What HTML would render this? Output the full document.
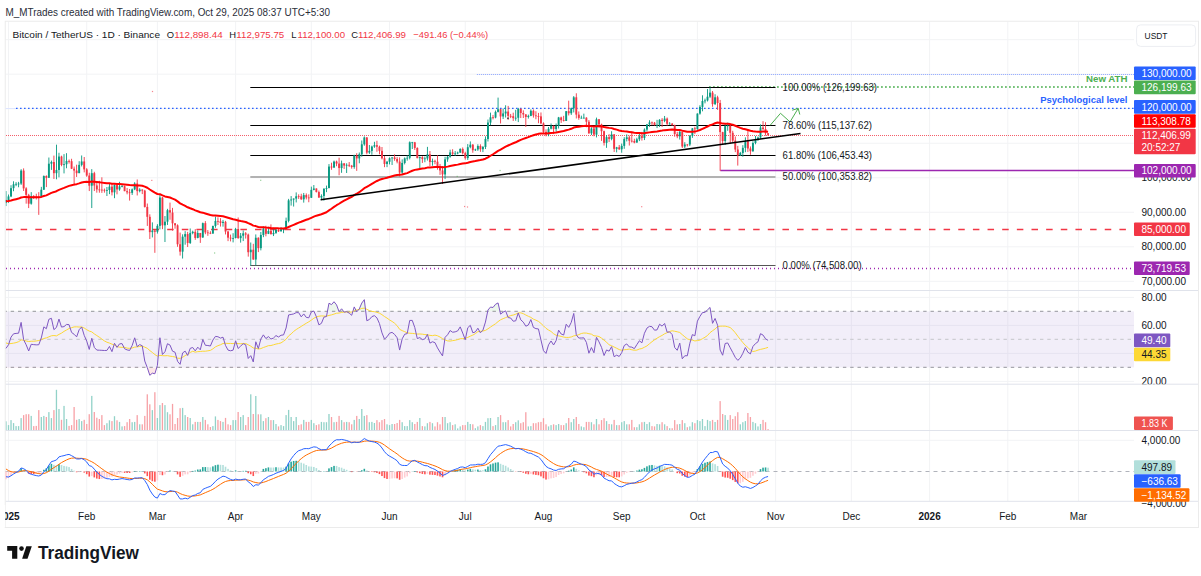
<!DOCTYPE html>
<html><head><meta charset="utf-8"><style>
html,body{margin:0;padding:0;background:#fff;width:1201px;height:576px;overflow:hidden}
svg{display:block;font-family:"Liberation Sans", sans-serif}
</style></head><body>
<svg width="1201" height="576" viewBox="0 0 1201 576">
<defs><clipPath id="pc"><rect x="5.75" y="21.5" width="1128.25" height="480"/></clipPath></defs>
<text x="5.6" y="15.9" font-size="10.2" fill="#2a2e39" text-anchor="start" font-weight="normal" textLength="324.4" lengthAdjust="spacingAndGlyphs">M_MTrades created with TradingView.com, Oct 29, 2025 08:37 UTC+5:30</text>
<line x1="8.5" y1="21.5" x2="8.5" y2="501.3" stroke="#f2f3f5" stroke-width="1"/>
<line x1="86.73" y1="21.5" x2="86.73" y2="501.3" stroke="#f2f3f5" stroke-width="1"/>
<line x1="157.39" y1="21.5" x2="157.39" y2="501.3" stroke="#f2f3f5" stroke-width="1"/>
<line x1="235.61" y1="21.5" x2="235.61" y2="501.3" stroke="#f2f3f5" stroke-width="1"/>
<line x1="311.32" y1="21.5" x2="311.32" y2="501.3" stroke="#f2f3f5" stroke-width="1"/>
<line x1="389.55" y1="21.5" x2="389.55" y2="501.3" stroke="#f2f3f5" stroke-width="1"/>
<line x1="465.25" y1="21.5" x2="465.25" y2="501.3" stroke="#f2f3f5" stroke-width="1"/>
<line x1="543.48" y1="21.5" x2="543.48" y2="501.3" stroke="#f2f3f5" stroke-width="1"/>
<line x1="621.71" y1="21.5" x2="621.71" y2="501.3" stroke="#f2f3f5" stroke-width="1"/>
<line x1="697.42" y1="21.5" x2="697.42" y2="501.3" stroke="#f2f3f5" stroke-width="1"/>
<line x1="775.64" y1="21.5" x2="775.64" y2="501.3" stroke="#f2f3f5" stroke-width="1"/>
<line x1="851.35" y1="21.5" x2="851.35" y2="501.3" stroke="#f2f3f5" stroke-width="1"/>
<line x1="929.58" y1="21.5" x2="929.58" y2="501.3" stroke="#f2f3f5" stroke-width="1"/>
<line x1="1007.81" y1="21.5" x2="1007.81" y2="501.3" stroke="#f2f3f5" stroke-width="1"/>
<line x1="1078.46" y1="21.5" x2="1078.46" y2="501.3" stroke="#f2f3f5" stroke-width="1"/>
<line x1="5.5" y1="39.68" x2="1134" y2="39.68" stroke="#f2f3f5" stroke-width="1"/>
<line x1="5.5" y1="74.2" x2="1134" y2="74.2" stroke="#f2f3f5" stroke-width="1"/>
<line x1="5.5" y1="108.72" x2="1134" y2="108.72" stroke="#f2f3f5" stroke-width="1"/>
<line x1="5.5" y1="143.24" x2="1134" y2="143.24" stroke="#f2f3f5" stroke-width="1"/>
<line x1="5.5" y1="177.76" x2="1134" y2="177.76" stroke="#f2f3f5" stroke-width="1"/>
<line x1="5.5" y1="212.28" x2="1134" y2="212.28" stroke="#f2f3f5" stroke-width="1"/>
<line x1="5.5" y1="246.8" x2="1134" y2="246.8" stroke="#f2f3f5" stroke-width="1"/>
<line x1="5.5" y1="281.32" x2="1134" y2="281.32" stroke="#f2f3f5" stroke-width="1"/>
<line x1="5.5" y1="297.4" x2="1134" y2="297.4" stroke="#f2f3f5" stroke-width="1"/>
<line x1="5.5" y1="325.4" x2="1134" y2="325.4" stroke="#f2f3f5" stroke-width="1"/>
<line x1="5.5" y1="353.4" x2="1134" y2="353.4" stroke="#f2f3f5" stroke-width="1"/>
<line x1="5.5" y1="381.4" x2="1134" y2="381.4" stroke="#f2f3f5" stroke-width="1"/>
<line x1="5.5" y1="440.3" x2="1134" y2="440.3" stroke="#f2f3f5" stroke-width="1"/>
<rect x="5.5" y="311.4" width="1128.5" height="56" fill="rgba(126,87,194,0.1)"/>
<line x1="5.5" y1="311.4" x2="1134" y2="311.4" stroke="#a9a9b0" stroke-width="1.2" stroke-dasharray="3.4 3.9" stroke-dashoffset="2.1"/>
<line x1="5.5" y1="367.4" x2="1134" y2="367.4" stroke="#a9a9b0" stroke-width="1.2" stroke-dasharray="3.4 3.9" stroke-dashoffset="2.1"/>
<line x1="5.5" y1="339.4" x2="1134" y2="339.4" stroke="#cdcdd3" stroke-width="1.2" stroke-dasharray="3.4 3.9" stroke-dashoffset="2.1"/>
<line x1="5.5" y1="290.5" x2="1198.5" y2="290.5" stroke="#e0e3eb" stroke-width="1"/>
<line x1="5.5" y1="384.2" x2="1198.5" y2="384.2" stroke="#e0e3eb" stroke-width="1"/>
<line x1="5.5" y1="430.5" x2="1198.5" y2="430.5" stroke="#e0e3eb" stroke-width="1"/>
<line x1="5.5" y1="501.3" x2="1198.5" y2="501.3" stroke="#e0e3eb" stroke-width="1"/>
<rect x="5.25" y="21.25" width="1193.25" height="506.25" fill="none" stroke="#ebebeb" stroke-width="1"/>
<line x1="5.5" y1="108.5" x2="16" y2="108.5" stroke="#dfe6ff" stroke-width="1"/>
<line x1="16" y1="108.4" x2="1134" y2="108.4" stroke="#2962FF" stroke-width="1.3" stroke-dasharray="1.6 2.4"/>
<line x1="476.9" y1="74.5" x2="1134" y2="74.5" stroke="#8fa8ff" stroke-width="1" stroke-dasharray="1 1"/>
<line x1="6" y1="135.5" x2="1134" y2="135.5" stroke="#F23645" stroke-width="1" stroke-dasharray="1 1" opacity="0.8"/>
<line x1="6" y1="229.4" x2="1134" y2="229.4" stroke="#F23645" stroke-width="1.5" stroke-dasharray="6.5 8.15"/>
<line x1="6" y1="268.5" x2="1134" y2="268.5" stroke="#9C27B0" stroke-width="1.3" stroke-dasharray="1 3"/>
<line x1="709" y1="87" x2="1134" y2="87" stroke="#4CAF50" stroke-width="1.6" stroke-dasharray="1.8 2.2"/>
<line x1="720.3" y1="170.5" x2="1134" y2="170.5" stroke="#9C27B0" stroke-width="1.4"/>
<line x1="250.3" y1="87.5" x2="775.5" y2="87.5" stroke="#000" stroke-width="1"/>
<line x1="250.3" y1="125.5" x2="775.5" y2="125.5" stroke="#000" stroke-width="1"/>
<line x1="250.3" y1="155.5" x2="775.5" y2="155.5" stroke="#000" stroke-width="1"/>
<line x1="250.3" y1="265.5" x2="775.5" y2="265.5" stroke="#555" stroke-width="1"/>
<line x1="250.3" y1="177" x2="775.5" y2="177" stroke="#b2b2b2" stroke-width="1.8"/>
<g clip-path="url(#pc)"><rect x="5.53" y="191.05" width="0.9" height="15.02" fill="#089981"/><rect x="5.03" y="199.94" width="1.9" height="2.71" fill="#089981"/><rect x="8.05" y="194.50" width="0.9" height="8.32" fill="#089981"/><rect x="7.55" y="196.43" width="1.9" height="3.50" fill="#089981"/><rect x="10.57" y="185.22" width="0.9" height="11.90" fill="#089981"/><rect x="10.07" y="188.17" width="1.9" height="8.26" fill="#089981"/><rect x="13.10" y="181.29" width="0.9" height="9.93" fill="#089981"/><rect x="12.60" y="184.29" width="1.9" height="3.87" fill="#089981"/><rect x="15.62" y="182.13" width="0.9" height="4.05" fill="#089981"/><rect x="15.12" y="183.85" width="1.9" height="0.80" fill="#089981"/><rect x="18.14" y="181.86" width="0.9" height="5.40" fill="#089981"/><rect x="17.64" y="183.58" width="1.9" height="0.80" fill="#089981"/><rect x="20.67" y="169.19" width="0.9" height="15.73" fill="#089981"/><rect x="20.17" y="170.59" width="1.9" height="12.99" fill="#089981"/><rect x="23.19" y="168.36" width="0.9" height="22.59" fill="#F23645"/><rect x="22.69" y="170.59" width="1.9" height="17.80" fill="#F23645"/><rect x="25.71" y="187.22" width="0.9" height="16.43" fill="#F23645"/><rect x="25.21" y="188.39" width="1.9" height="6.49" fill="#F23645"/><rect x="28.24" y="193.82" width="0.9" height="14.25" fill="#F23645"/><rect x="27.74" y="194.87" width="1.9" height="8.83" fill="#F23645"/><rect x="30.76" y="192.13" width="0.9" height="12.53" fill="#089981"/><rect x="30.26" y="196.05" width="1.9" height="7.65" fill="#089981"/><rect x="33.28" y="195.10" width="0.9" height="3.92" fill="#F23645"/><rect x="32.78" y="196.05" width="1.9" height="0.80" fill="#F23645"/><rect x="35.81" y="193.72" width="0.9" height="5.75" fill="#F23645"/><rect x="35.31" y="196.52" width="1.9" height="0.80" fill="#F23645"/><rect x="38.33" y="192.13" width="0.9" height="22.72" fill="#F23645"/><rect x="37.83" y="196.64" width="1.9" height="0.80" fill="#F23645"/><rect x="40.86" y="186.84" width="0.9" height="10.44" fill="#089981"/><rect x="40.36" y="189.72" width="1.9" height="6.97" fill="#089981"/><rect x="43.38" y="175.41" width="0.9" height="14.43" fill="#089981"/><rect x="42.88" y="176.02" width="1.9" height="13.71" fill="#089981"/><rect x="45.90" y="175.34" width="0.9" height="11.74" fill="#F23645"/><rect x="45.40" y="176.02" width="1.9" height="1.79" fill="#F23645"/><rect x="48.43" y="157.51" width="0.9" height="20.42" fill="#089981"/><rect x="47.93" y="163.69" width="1.9" height="14.12" fill="#089981"/><rect x="50.95" y="160.54" width="0.9" height="9.35" fill="#089981"/><rect x="50.45" y="162.03" width="1.9" height="1.65" fill="#089981"/><rect x="53.47" y="155.59" width="0.9" height="23.37" fill="#F23645"/><rect x="52.97" y="162.03" width="1.9" height="11.14" fill="#F23645"/><rect x="56.00" y="144.66" width="0.9" height="34.65" fill="#089981"/><rect x="55.50" y="169.96" width="1.9" height="3.21" fill="#089981"/><rect x="58.52" y="152.77" width="0.9" height="24.58" fill="#089981"/><rect x="58.02" y="156.55" width="1.9" height="13.41" fill="#089981"/><rect x="61.04" y="155.69" width="0.9" height="10.55" fill="#F23645"/><rect x="60.54" y="156.55" width="1.9" height="8.42" fill="#F23645"/><rect x="63.57" y="154.11" width="0.9" height="19.29" fill="#089981"/><rect x="63.07" y="164.26" width="1.9" height="0.80" fill="#089981"/><rect x="66.09" y="153.18" width="0.9" height="15.09" fill="#089981"/><rect x="65.59" y="160.95" width="1.9" height="3.32" fill="#089981"/><rect x="68.61" y="159.51" width="0.9" height="4.07" fill="#F23645"/><rect x="68.11" y="160.95" width="1.9" height="0.80" fill="#F23645"/><rect x="71.14" y="158.77" width="0.9" height="10.29" fill="#F23645"/><rect x="70.64" y="161.20" width="1.9" height="7.52" fill="#F23645"/><rect x="73.66" y="166.51" width="0.9" height="18.93" fill="#F23645"/><rect x="73.16" y="168.72" width="1.9" height="1.85" fill="#F23645"/><rect x="76.18" y="164.70" width="0.9" height="12.25" fill="#F23645"/><rect x="75.68" y="170.57" width="1.9" height="2.59" fill="#F23645"/><rect x="78.71" y="161.19" width="0.9" height="11.99" fill="#089981"/><rect x="78.21" y="164.87" width="1.9" height="8.29" fill="#089981"/><rect x="81.23" y="155.47" width="0.9" height="10.97" fill="#089981"/><rect x="80.73" y="161.46" width="1.9" height="3.41" fill="#089981"/><rect x="83.75" y="157.01" width="0.9" height="15.37" fill="#F23645"/><rect x="83.25" y="161.46" width="1.9" height="7.92" fill="#F23645"/><rect x="86.28" y="168.15" width="0.9" height="8.64" fill="#F23645"/><rect x="85.78" y="169.38" width="1.9" height="6.19" fill="#F23645"/><rect x="88.80" y="172.73" width="0.9" height="18.32" fill="#F23645"/><rect x="88.30" y="175.57" width="1.9" height="10.13" fill="#F23645"/><rect x="91.33" y="169.13" width="0.9" height="38.90" fill="#089981"/><rect x="90.83" y="173.18" width="1.9" height="12.52" fill="#089981"/><rect x="93.85" y="171.78" width="0.9" height="19.27" fill="#F23645"/><rect x="93.35" y="173.18" width="1.9" height="12.31" fill="#F23645"/><rect x="96.37" y="181.96" width="0.9" height="10.72" fill="#F23645"/><rect x="95.87" y="185.48" width="1.9" height="3.97" fill="#F23645"/><rect x="98.90" y="180.80" width="0.9" height="11.89" fill="#F23645"/><rect x="98.40" y="189.46" width="1.9" height="0.80" fill="#F23645"/><rect x="101.42" y="177.29" width="0.9" height="15.59" fill="#F23645"/><rect x="100.92" y="189.66" width="1.9" height="0.80" fill="#F23645"/><rect x="103.94" y="188.53" width="0.9" height="4.11" fill="#F23645"/><rect x="103.44" y="189.82" width="1.9" height="0.80" fill="#F23645"/><rect x="106.47" y="187.00" width="0.9" height="9.01" fill="#089981"/><rect x="105.97" y="189.97" width="1.9" height="0.80" fill="#089981"/><rect x="108.99" y="183.47" width="0.9" height="10.66" fill="#089981"/><rect x="108.49" y="186.63" width="1.9" height="3.34" fill="#089981"/><rect x="111.51" y="183.01" width="0.9" height="12.43" fill="#F23645"/><rect x="111.01" y="186.63" width="1.9" height="5.70" fill="#F23645"/><rect x="114.04" y="184.25" width="0.9" height="13.92" fill="#089981"/><rect x="113.54" y="185.12" width="1.9" height="7.22" fill="#089981"/><rect x="116.56" y="184.40" width="0.9" height="9.93" fill="#F23645"/><rect x="116.06" y="185.12" width="1.9" height="4.35" fill="#F23645"/><rect x="119.08" y="181.81" width="0.9" height="8.89" fill="#089981"/><rect x="118.58" y="186.39" width="1.9" height="3.08" fill="#089981"/><rect x="121.61" y="184.76" width="0.9" height="2.59" fill="#089981"/><rect x="121.11" y="186.15" width="1.9" height="0.80" fill="#089981"/><rect x="124.13" y="185.59" width="0.9" height="5.63" fill="#F23645"/><rect x="123.63" y="186.15" width="1.9" height="5.01" fill="#F23645"/><rect x="126.65" y="187.96" width="0.9" height="6.36" fill="#F23645"/><rect x="126.15" y="191.16" width="1.9" height="1.17" fill="#F23645"/><rect x="129.18" y="188.97" width="0.9" height="11.62" fill="#F23645"/><rect x="128.68" y="192.33" width="1.9" height="0.80" fill="#F23645"/><rect x="131.70" y="188.46" width="0.9" height="6.47" fill="#089981"/><rect x="131.20" y="189.41" width="1.9" height="3.44" fill="#089981"/><rect x="134.23" y="182.21" width="0.9" height="7.93" fill="#089981"/><rect x="133.73" y="183.51" width="1.9" height="5.90" fill="#089981"/><rect x="136.75" y="179.47" width="0.9" height="15.99" fill="#F23645"/><rect x="136.25" y="183.51" width="1.9" height="7.62" fill="#F23645"/><rect x="139.27" y="188.19" width="0.9" height="4.17" fill="#089981"/><rect x="138.77" y="189.58" width="1.9" height="1.56" fill="#089981"/><rect x="141.80" y="189.25" width="0.9" height="4.84" fill="#F23645"/><rect x="141.30" y="189.58" width="1.9" height="1.05" fill="#F23645"/><rect x="144.32" y="189.83" width="0.9" height="17.72" fill="#F23645"/><rect x="143.82" y="190.63" width="1.9" height="16.30" fill="#F23645"/><rect x="146.84" y="203.51" width="0.9" height="22.40" fill="#F23645"/><rect x="146.34" y="206.92" width="1.9" height="9.91" fill="#F23645"/><rect x="149.37" y="214.30" width="0.9" height="24.71" fill="#F23645"/><rect x="148.87" y="216.84" width="1.9" height="15.29" fill="#F23645"/><rect x="151.89" y="222.37" width="0.9" height="15.06" fill="#089981"/><rect x="151.39" y="230.55" width="1.9" height="1.58" fill="#089981"/><rect x="154.41" y="229.13" width="0.9" height="23.69" fill="#F23645"/><rect x="153.91" y="230.55" width="1.9" height="1.24" fill="#F23645"/><rect x="156.94" y="224.16" width="0.9" height="9.44" fill="#089981"/><rect x="156.44" y="225.87" width="1.9" height="5.92" fill="#089981"/><rect x="159.46" y="195.02" width="0.9" height="34.35" fill="#089981"/><rect x="158.96" y="197.54" width="1.9" height="28.33" fill="#089981"/><rect x="161.98" y="197.04" width="0.9" height="32.10" fill="#F23645"/><rect x="161.48" y="197.54" width="1.9" height="27.79" fill="#F23645"/><rect x="164.51" y="216.04" width="0.9" height="25.97" fill="#089981"/><rect x="164.01" y="221.67" width="1.9" height="3.66" fill="#089981"/><rect x="167.03" y="208.83" width="0.9" height="16.11" fill="#089981"/><rect x="166.53" y="210.19" width="1.9" height="11.48" fill="#089981"/><rect x="169.55" y="202.58" width="0.9" height="17.17" fill="#F23645"/><rect x="169.05" y="210.19" width="1.9" height="2.33" fill="#F23645"/><rect x="172.08" y="207.85" width="0.9" height="22.84" fill="#F23645"/><rect x="171.58" y="212.52" width="1.9" height="10.80" fill="#F23645"/><rect x="174.60" y="222.99" width="0.9" height="5.69" fill="#F23645"/><rect x="174.10" y="223.32" width="1.9" height="2.00" fill="#F23645"/><rect x="177.12" y="224.36" width="0.9" height="22.44" fill="#F23645"/><rect x="176.62" y="225.32" width="1.9" height="18.94" fill="#F23645"/><rect x="179.65" y="232.57" width="0.9" height="23.00" fill="#F23645"/><rect x="179.15" y="244.27" width="1.9" height="7.38" fill="#F23645"/><rect x="182.17" y="234.31" width="0.9" height="24.20" fill="#089981"/><rect x="181.67" y="236.68" width="1.9" height="14.97" fill="#089981"/><rect x="184.69" y="231.13" width="0.9" height="13.57" fill="#089981"/><rect x="184.19" y="234.10" width="1.9" height="2.58" fill="#089981"/><rect x="187.22" y="231.83" width="0.9" height="15.18" fill="#F23645"/><rect x="186.72" y="234.10" width="1.9" height="8.85" fill="#F23645"/><rect x="189.74" y="228.47" width="0.9" height="15.50" fill="#089981"/><rect x="189.24" y="233.05" width="1.9" height="9.90" fill="#089981"/><rect x="192.27" y="230.66" width="0.9" height="3.65" fill="#089981"/><rect x="191.77" y="231.83" width="1.9" height="1.23" fill="#089981"/><rect x="194.79" y="229.14" width="0.9" height="10.70" fill="#F23645"/><rect x="194.29" y="231.83" width="1.9" height="6.09" fill="#F23645"/><rect x="197.31" y="230.38" width="0.9" height="7.94" fill="#089981"/><rect x="196.81" y="232.96" width="1.9" height="4.96" fill="#089981"/><rect x="199.84" y="232.92" width="0.9" height="9.97" fill="#F23645"/><rect x="199.34" y="232.96" width="1.9" height="4.47" fill="#F23645"/><rect x="202.36" y="222.56" width="0.9" height="15.36" fill="#089981"/><rect x="201.86" y="223.14" width="1.9" height="14.28" fill="#089981"/><rect x="204.88" y="221.11" width="0.9" height="13.10" fill="#F23645"/><rect x="204.38" y="223.14" width="1.9" height="9.28" fill="#F23645"/><rect x="207.41" y="230.06" width="0.9" height="5.78" fill="#F23645"/><rect x="206.91" y="232.42" width="1.9" height="0.80" fill="#F23645"/><rect x="209.93" y="231.22" width="0.9" height="2.90" fill="#F23645"/><rect x="209.43" y="232.84" width="1.9" height="0.80" fill="#F23645"/><rect x="212.45" y="225.76" width="0.9" height="7.94" fill="#089981"/><rect x="211.95" y="225.90" width="1.9" height="7.67" fill="#089981"/><rect x="214.98" y="216.54" width="0.9" height="11.21" fill="#089981"/><rect x="214.48" y="220.92" width="1.9" height="4.98" fill="#089981"/><rect x="217.50" y="217.32" width="0.9" height="7.70" fill="#F23645"/><rect x="217.00" y="220.92" width="1.9" height="0.80" fill="#F23645"/><rect x="220.02" y="218.18" width="0.9" height="8.39" fill="#F23645"/><rect x="219.52" y="221.28" width="1.9" height="1.67" fill="#F23645"/><rect x="222.55" y="219.92" width="0.9" height="6.73" fill="#089981"/><rect x="222.05" y="221.84" width="1.9" height="1.11" fill="#089981"/><rect x="225.07" y="220.86" width="0.9" height="13.57" fill="#F23645"/><rect x="224.57" y="221.84" width="1.9" height="9.69" fill="#F23645"/><rect x="227.59" y="230.84" width="0.9" height="10.29" fill="#F23645"/><rect x="227.09" y="231.53" width="1.9" height="6.13" fill="#F23645"/><rect x="230.12" y="234.60" width="0.9" height="6.80" fill="#F23645"/><rect x="229.62" y="237.66" width="1.9" height="0.89" fill="#F23645"/><rect x="232.64" y="233.19" width="0.9" height="9.20" fill="#089981"/><rect x="232.14" y="238.00" width="1.9" height="0.80" fill="#089981"/><rect x="235.16" y="227.86" width="0.9" height="10.54" fill="#089981"/><rect x="234.66" y="228.99" width="1.9" height="9.01" fill="#089981"/><rect x="237.69" y="217.46" width="0.9" height="21.33" fill="#F23645"/><rect x="237.19" y="228.99" width="1.9" height="9.12" fill="#F23645"/><rect x="240.21" y="233.00" width="0.9" height="9.62" fill="#089981"/><rect x="239.71" y="235.71" width="1.9" height="2.41" fill="#089981"/><rect x="242.74" y="230.51" width="0.9" height="10.57" fill="#089981"/><rect x="242.24" y="233.38" width="1.9" height="2.33" fill="#089981"/><rect x="245.26" y="232.07" width="0.9" height="6.51" fill="#F23645"/><rect x="244.76" y="233.38" width="1.9" height="1.22" fill="#F23645"/><rect x="247.78" y="233.62" width="0.9" height="23.00" fill="#F23645"/><rect x="247.28" y="234.59" width="1.9" height="17.63" fill="#F23645"/><rect x="250.31" y="242.51" width="0.9" height="23.25" fill="#089981"/><rect x="249.81" y="249.69" width="1.9" height="2.53" fill="#089981"/><rect x="252.83" y="243.81" width="0.9" height="15.98" fill="#F23645"/><rect x="252.33" y="249.69" width="1.9" height="9.81" fill="#F23645"/><rect x="255.35" y="234.41" width="0.9" height="30.96" fill="#089981"/><rect x="254.85" y="237.77" width="1.9" height="21.72" fill="#089981"/><rect x="257.88" y="237.30" width="0.9" height="14.81" fill="#F23645"/><rect x="257.38" y="237.77" width="1.9" height="10.38" fill="#F23645"/><rect x="260.40" y="231.96" width="0.9" height="18.40" fill="#089981"/><rect x="259.90" y="234.98" width="1.9" height="13.17" fill="#089981"/><rect x="262.92" y="226.42" width="0.9" height="10.75" fill="#089981"/><rect x="262.42" y="228.59" width="1.9" height="6.40" fill="#089981"/><rect x="265.45" y="225.74" width="0.9" height="10.58" fill="#F23645"/><rect x="264.95" y="228.59" width="1.9" height="5.23" fill="#F23645"/><rect x="267.97" y="226.78" width="0.9" height="7.32" fill="#089981"/><rect x="267.47" y="230.95" width="1.9" height="2.87" fill="#089981"/><rect x="270.49" y="224.38" width="0.9" height="10.00" fill="#F23645"/><rect x="269.99" y="230.95" width="1.9" height="3.27" fill="#F23645"/><rect x="273.02" y="227.81" width="0.9" height="8.25" fill="#089981"/><rect x="272.52" y="232.89" width="1.9" height="1.34" fill="#089981"/><rect x="275.54" y="227.92" width="0.9" height="5.99" fill="#089981"/><rect x="275.04" y="229.72" width="1.9" height="3.17" fill="#089981"/><rect x="278.06" y="229.08" width="0.9" height="2.86" fill="#F23645"/><rect x="277.56" y="229.72" width="1.9" height="1.63" fill="#F23645"/><rect x="280.59" y="227.20" width="0.9" height="4.31" fill="#089981"/><rect x="280.09" y="229.27" width="1.9" height="2.08" fill="#089981"/><rect x="283.11" y="228.44" width="0.9" height="4.73" fill="#089981"/><rect x="282.61" y="228.92" width="1.9" height="0.80" fill="#089981"/><rect x="285.63" y="217.60" width="0.9" height="11.45" fill="#089981"/><rect x="285.13" y="220.85" width="1.9" height="8.07" fill="#089981"/><rect x="288.16" y="198.86" width="0.9" height="23.52" fill="#089981"/><rect x="287.66" y="200.40" width="1.9" height="20.46" fill="#089981"/><rect x="290.68" y="196.07" width="0.9" height="9.53" fill="#089981"/><rect x="290.18" y="199.54" width="1.9" height="0.86" fill="#089981"/><rect x="293.21" y="198.47" width="0.9" height="8.08" fill="#089981"/><rect x="292.71" y="198.54" width="1.9" height="1.00" fill="#089981"/><rect x="295.73" y="192.40" width="0.9" height="10.02" fill="#089981"/><rect x="295.23" y="196.27" width="1.9" height="2.27" fill="#089981"/><rect x="298.25" y="194.33" width="0.9" height="4.59" fill="#F23645"/><rect x="297.75" y="196.27" width="1.9" height="0.80" fill="#F23645"/><rect x="300.78" y="193.75" width="0.9" height="6.10" fill="#F23645"/><rect x="300.28" y="196.30" width="1.9" height="3.02" fill="#F23645"/><rect x="303.30" y="192.95" width="0.9" height="9.67" fill="#089981"/><rect x="302.80" y="195.08" width="1.9" height="4.24" fill="#089981"/><rect x="305.82" y="193.39" width="0.9" height="6.02" fill="#F23645"/><rect x="305.32" y="195.08" width="1.9" height="2.41" fill="#F23645"/><rect x="308.35" y="194.33" width="0.9" height="7.91" fill="#F23645"/><rect x="307.85" y="197.49" width="1.9" height="0.80" fill="#F23645"/><rect x="310.87" y="186.61" width="0.9" height="11.34" fill="#089981"/><rect x="310.37" y="189.88" width="1.9" height="7.88" fill="#089981"/><rect x="313.39" y="185.03" width="0.9" height="5.33" fill="#089981"/><rect x="312.89" y="188.51" width="1.9" height="1.37" fill="#089981"/><rect x="315.92" y="188.34" width="0.9" height="4.08" fill="#F23645"/><rect x="315.42" y="188.51" width="1.9" height="3.56" fill="#F23645"/><rect x="318.44" y="190.52" width="0.9" height="7.43" fill="#F23645"/><rect x="317.94" y="192.07" width="1.9" height="5.45" fill="#F23645"/><rect x="320.96" y="194.33" width="0.9" height="5.82" fill="#089981"/><rect x="320.46" y="195.94" width="1.9" height="1.57" fill="#089981"/><rect x="323.49" y="188.39" width="0.9" height="12.23" fill="#089981"/><rect x="322.99" y="188.69" width="1.9" height="7.26" fill="#089981"/><rect x="326.01" y="185.59" width="0.9" height="6.54" fill="#089981"/><rect x="325.51" y="188.00" width="1.9" height="0.80" fill="#089981"/><rect x="328.53" y="164.05" width="0.9" height="24.36" fill="#089981"/><rect x="328.03" y="166.57" width="1.9" height="21.43" fill="#089981"/><rect x="331.06" y="162.71" width="0.9" height="7.06" fill="#F23645"/><rect x="330.56" y="166.57" width="1.9" height="0.94" fill="#F23645"/><rect x="333.58" y="160.56" width="0.9" height="7.48" fill="#089981"/><rect x="333.08" y="161.55" width="1.9" height="5.95" fill="#089981"/><rect x="336.11" y="160.60" width="0.9" height="5.62" fill="#F23645"/><rect x="335.61" y="161.55" width="1.9" height="2.03" fill="#F23645"/><rect x="338.63" y="157.67" width="0.9" height="17.61" fill="#F23645"/><rect x="338.13" y="163.58" width="1.9" height="4.47" fill="#F23645"/><rect x="341.15" y="160.58" width="0.9" height="12.24" fill="#089981"/><rect x="340.65" y="163.37" width="1.9" height="4.69" fill="#089981"/><rect x="343.68" y="163.09" width="0.9" height="5.83" fill="#F23645"/><rect x="343.18" y="163.37" width="1.9" height="2.18" fill="#F23645"/><rect x="346.20" y="163.29" width="0.9" height="9.70" fill="#089981"/><rect x="345.70" y="164.84" width="1.9" height="0.80" fill="#089981"/><rect x="348.72" y="162.05" width="0.9" height="5.01" fill="#F23645"/><rect x="348.22" y="164.84" width="1.9" height="0.88" fill="#F23645"/><rect x="351.25" y="164.93" width="0.9" height="3.74" fill="#F23645"/><rect x="350.75" y="165.72" width="1.9" height="1.25" fill="#F23645"/><rect x="353.77" y="154.77" width="0.9" height="13.97" fill="#089981"/><rect x="353.27" y="155.48" width="1.9" height="11.49" fill="#089981"/><rect x="356.29" y="153.22" width="0.9" height="17.63" fill="#F23645"/><rect x="355.79" y="155.48" width="1.9" height="2.93" fill="#F23645"/><rect x="358.82" y="152.49" width="0.9" height="10.80" fill="#089981"/><rect x="358.32" y="154.31" width="1.9" height="4.09" fill="#089981"/><rect x="361.34" y="140.49" width="0.9" height="16.21" fill="#089981"/><rect x="360.84" y="144.35" width="1.9" height="9.96" fill="#089981"/><rect x="363.86" y="136.41" width="0.9" height="9.30" fill="#089981"/><rect x="363.36" y="137.46" width="1.9" height="6.89" fill="#089981"/><rect x="366.39" y="137.03" width="0.9" height="17.26" fill="#F23645"/><rect x="365.89" y="137.46" width="1.9" height="15.14" fill="#F23645"/><rect x="368.91" y="144.97" width="0.9" height="8.98" fill="#089981"/><rect x="368.41" y="150.87" width="1.9" height="1.74" fill="#089981"/><rect x="371.43" y="145.61" width="0.9" height="9.13" fill="#089981"/><rect x="370.93" y="146.57" width="1.9" height="4.29" fill="#089981"/><rect x="373.96" y="141.78" width="0.9" height="6.05" fill="#089981"/><rect x="373.46" y="145.17" width="1.9" height="1.40" fill="#089981"/><rect x="376.48" y="140.76" width="0.9" height="11.02" fill="#F23645"/><rect x="375.98" y="145.17" width="1.9" height="1.57" fill="#F23645"/><rect x="379.00" y="145.66" width="0.9" height="8.66" fill="#F23645"/><rect x="378.50" y="146.74" width="1.9" height="4.08" fill="#F23645"/><rect x="381.53" y="147.00" width="0.9" height="12.39" fill="#F23645"/><rect x="381.03" y="150.83" width="1.9" height="7.46" fill="#F23645"/><rect x="384.05" y="155.94" width="0.9" height="11.23" fill="#F23645"/><rect x="383.55" y="158.28" width="1.9" height="5.68" fill="#F23645"/><rect x="386.57" y="160.89" width="0.9" height="6.27" fill="#089981"/><rect x="386.07" y="161.75" width="1.9" height="2.21" fill="#089981"/><rect x="389.10" y="157.39" width="0.9" height="7.01" fill="#089981"/><rect x="388.60" y="158.25" width="1.9" height="3.50" fill="#089981"/><rect x="391.62" y="157.27" width="0.9" height="7.72" fill="#089981"/><rect x="391.12" y="157.46" width="1.9" height="0.80" fill="#089981"/><rect x="394.15" y="154.31" width="0.9" height="6.47" fill="#F23645"/><rect x="393.65" y="157.46" width="1.9" height="1.55" fill="#F23645"/><rect x="396.67" y="157.05" width="0.9" height="6.30" fill="#F23645"/><rect x="396.17" y="159.01" width="1.9" height="2.54" fill="#F23645"/><rect x="399.19" y="157.36" width="0.9" height="19.11" fill="#F23645"/><rect x="398.69" y="161.55" width="1.9" height="11.00" fill="#F23645"/><rect x="401.72" y="159.35" width="0.9" height="14.63" fill="#089981"/><rect x="401.22" y="162.95" width="1.9" height="9.60" fill="#089981"/><rect x="404.24" y="157.39" width="0.9" height="7.00" fill="#089981"/><rect x="403.74" y="158.38" width="1.9" height="4.58" fill="#089981"/><rect x="406.76" y="155.36" width="0.9" height="5.26" fill="#089981"/><rect x="406.26" y="157.76" width="1.9" height="0.80" fill="#089981"/><rect x="409.29" y="141.41" width="0.9" height="17.99" fill="#089981"/><rect x="408.79" y="142.33" width="1.9" height="15.43" fill="#089981"/><rect x="411.81" y="141.86" width="0.9" height="7.14" fill="#089981"/><rect x="411.31" y="142.29" width="1.9" height="0.80" fill="#089981"/><rect x="414.33" y="141.89" width="0.9" height="8.05" fill="#F23645"/><rect x="413.83" y="142.34" width="1.9" height="5.58" fill="#F23645"/><rect x="416.86" y="147.34" width="0.9" height="10.85" fill="#F23645"/><rect x="416.36" y="147.92" width="1.9" height="10.27" fill="#F23645"/><rect x="419.38" y="156.44" width="0.9" height="12.12" fill="#089981"/><rect x="418.88" y="157.11" width="1.9" height="1.07" fill="#089981"/><rect x="421.90" y="156.18" width="0.9" height="6.74" fill="#F23645"/><rect x="421.40" y="157.11" width="1.9" height="1.96" fill="#F23645"/><rect x="424.43" y="156.61" width="0.9" height="5.64" fill="#089981"/><rect x="423.93" y="158.45" width="1.9" height="0.80" fill="#089981"/><rect x="426.95" y="146.86" width="0.9" height="13.65" fill="#089981"/><rect x="426.45" y="154.31" width="1.9" height="4.14" fill="#089981"/><rect x="429.47" y="151.01" width="0.9" height="15.12" fill="#F23645"/><rect x="428.97" y="154.31" width="1.9" height="7.74" fill="#F23645"/><rect x="432.00" y="158.60" width="0.9" height="7.08" fill="#089981"/><rect x="431.50" y="160.89" width="1.9" height="1.16" fill="#089981"/><rect x="434.52" y="159.72" width="0.9" height="4.48" fill="#F23645"/><rect x="434.02" y="160.89" width="1.9" height="0.80" fill="#F23645"/><rect x="437.04" y="155.24" width="0.9" height="14.43" fill="#F23645"/><rect x="436.54" y="161.68" width="1.9" height="4.70" fill="#F23645"/><rect x="439.57" y="163.95" width="0.9" height="10.92" fill="#F23645"/><rect x="439.07" y="166.38" width="1.9" height="4.06" fill="#F23645"/><rect x="442.09" y="166.02" width="0.9" height="17.95" fill="#F23645"/><rect x="441.59" y="170.44" width="1.9" height="3.99" fill="#F23645"/><rect x="444.62" y="156.79" width="0.9" height="22.30" fill="#089981"/><rect x="444.12" y="159.35" width="1.9" height="15.09" fill="#089981"/><rect x="447.14" y="156.05" width="0.9" height="5.76" fill="#089981"/><rect x="446.64" y="156.76" width="1.9" height="2.59" fill="#089981"/><rect x="449.66" y="149.68" width="0.9" height="8.03" fill="#089981"/><rect x="449.16" y="152.42" width="1.9" height="4.34" fill="#089981"/><rect x="452.19" y="149.21" width="0.9" height="5.90" fill="#F23645"/><rect x="451.69" y="152.42" width="1.9" height="1.36" fill="#F23645"/><rect x="454.71" y="151.06" width="0.9" height="4.76" fill="#089981"/><rect x="454.21" y="153.43" width="1.9" height="0.80" fill="#089981"/><rect x="457.23" y="151.60" width="0.9" height="2.68" fill="#089981"/><rect x="456.73" y="152.57" width="1.9" height="0.86" fill="#089981"/><rect x="459.76" y="148.32" width="0.9" height="4.58" fill="#089981"/><rect x="459.26" y="148.92" width="1.9" height="3.66" fill="#089981"/><rect x="462.28" y="147.42" width="0.9" height="7.10" fill="#F23645"/><rect x="461.78" y="148.92" width="1.9" height="4.21" fill="#F23645"/><rect x="464.80" y="151.73" width="0.9" height="7.91" fill="#F23645"/><rect x="464.30" y="153.13" width="1.9" height="4.96" fill="#F23645"/><rect x="467.33" y="144.06" width="0.9" height="15.90" fill="#089981"/><rect x="466.83" y="147.21" width="1.9" height="10.88" fill="#089981"/><rect x="469.85" y="141.41" width="0.9" height="6.90" fill="#089981"/><rect x="469.35" y="144.68" width="1.9" height="2.53" fill="#089981"/><rect x="472.37" y="144.04" width="0.9" height="8.71" fill="#F23645"/><rect x="471.87" y="144.68" width="1.9" height="5.52" fill="#F23645"/><rect x="474.90" y="148.69" width="0.9" height="2.29" fill="#089981"/><rect x="474.40" y="149.46" width="1.9" height="0.80" fill="#089981"/><rect x="477.42" y="144.28" width="0.9" height="6.56" fill="#089981"/><rect x="476.92" y="145.99" width="1.9" height="3.47" fill="#089981"/><rect x="479.94" y="144.28" width="0.9" height="7.55" fill="#F23645"/><rect x="479.44" y="145.99" width="1.9" height="3.25" fill="#F23645"/><rect x="482.47" y="145.95" width="0.9" height="6.17" fill="#089981"/><rect x="481.97" y="146.96" width="1.9" height="2.28" fill="#089981"/><rect x="484.99" y="136.34" width="0.9" height="12.69" fill="#089981"/><rect x="484.49" y="138.98" width="1.9" height="7.98" fill="#089981"/><rect x="487.51" y="119.53" width="0.9" height="21.98" fill="#089981"/><rect x="487.01" y="122.57" width="1.9" height="16.41" fill="#089981"/><rect x="490.04" y="112.62" width="0.9" height="12.59" fill="#089981"/><rect x="489.54" y="117.29" width="1.9" height="5.28" fill="#089981"/><rect x="492.56" y="114.93" width="0.9" height="4.49" fill="#F23645"/><rect x="492.06" y="117.29" width="1.9" height="0.80" fill="#F23645"/><rect x="495.09" y="110.49" width="0.9" height="7.82" fill="#089981"/><rect x="494.59" y="111.88" width="1.9" height="5.70" fill="#089981"/><rect x="497.61" y="97.61" width="0.9" height="14.89" fill="#089981"/><rect x="497.11" y="109.27" width="1.9" height="2.61" fill="#089981"/><rect x="500.13" y="108.93" width="0.9" height="14.51" fill="#F23645"/><rect x="499.63" y="109.27" width="1.9" height="7.19" fill="#F23645"/><rect x="502.66" y="108.50" width="0.9" height="10.51" fill="#089981"/><rect x="502.16" y="113.45" width="1.9" height="3.01" fill="#089981"/><rect x="505.18" y="105.27" width="0.9" height="12.24" fill="#089981"/><rect x="504.68" y="111.56" width="1.9" height="1.88" fill="#089981"/><rect x="507.70" y="105.89" width="0.9" height="13.84" fill="#F23645"/><rect x="507.20" y="111.56" width="1.9" height="4.33" fill="#F23645"/><rect x="510.23" y="113.90" width="0.9" height="4.22" fill="#F23645"/><rect x="509.73" y="115.89" width="1.9" height="0.80" fill="#F23645"/><rect x="512.75" y="112.67" width="0.9" height="8.25" fill="#F23645"/><rect x="512.25" y="116.18" width="1.9" height="1.98" fill="#F23645"/><rect x="515.27" y="109.84" width="0.9" height="10.91" fill="#089981"/><rect x="514.77" y="117.76" width="1.9" height="0.80" fill="#089981"/><rect x="517.80" y="107.87" width="0.9" height="14.22" fill="#089981"/><rect x="517.30" y="108.88" width="1.9" height="8.89" fill="#089981"/><rect x="520.32" y="108.41" width="0.9" height="9.63" fill="#F23645"/><rect x="519.82" y="108.88" width="1.9" height="4.14" fill="#F23645"/><rect x="522.84" y="110.33" width="0.9" height="7.67" fill="#F23645"/><rect x="522.34" y="113.02" width="1.9" height="1.43" fill="#F23645"/><rect x="525.37" y="114.07" width="0.9" height="12.87" fill="#F23645"/><rect x="524.87" y="114.45" width="1.9" height="2.51" fill="#F23645"/><rect x="527.89" y="114.60" width="0.9" height="3.96" fill="#089981"/><rect x="527.39" y="115.90" width="1.9" height="1.05" fill="#089981"/><rect x="530.41" y="109.41" width="0.9" height="6.77" fill="#089981"/><rect x="529.91" y="110.74" width="1.9" height="5.16" fill="#089981"/><rect x="532.94" y="109.41" width="0.9" height="8.19" fill="#F23645"/><rect x="532.44" y="110.74" width="1.9" height="4.67" fill="#F23645"/><rect x="535.46" y="111.23" width="0.9" height="8.02" fill="#F23645"/><rect x="534.96" y="115.41" width="1.9" height="0.80" fill="#F23645"/><rect x="537.98" y="112.89" width="0.9" height="10.34" fill="#F23645"/><rect x="537.48" y="116.18" width="1.9" height="0.80" fill="#F23645"/><rect x="540.51" y="112.45" width="0.9" height="11.81" fill="#F23645"/><rect x="540.01" y="116.36" width="1.9" height="6.99" fill="#F23645"/><rect x="543.03" y="122.35" width="0.9" height="11.50" fill="#F23645"/><rect x="542.53" y="123.34" width="1.9" height="8.52" fill="#F23645"/><rect x="545.56" y="129.31" width="0.9" height="7.03" fill="#F23645"/><rect x="545.06" y="131.86" width="1.9" height="2.59" fill="#F23645"/><rect x="548.08" y="127.02" width="0.9" height="9.21" fill="#089981"/><rect x="547.58" y="128.71" width="1.9" height="5.74" fill="#089981"/><rect x="550.60" y="123.49" width="0.9" height="5.91" fill="#089981"/><rect x="550.10" y="125.89" width="1.9" height="2.82" fill="#089981"/><rect x="553.13" y="125.54" width="0.9" height="8.55" fill="#F23645"/><rect x="552.63" y="125.89" width="1.9" height="3.18" fill="#F23645"/><rect x="555.65" y="123.51" width="0.9" height="8.16" fill="#089981"/><rect x="555.15" y="126.01" width="1.9" height="3.07" fill="#089981"/><rect x="558.17" y="116.90" width="0.9" height="11.62" fill="#089981"/><rect x="557.67" y="117.45" width="1.9" height="8.56" fill="#089981"/><rect x="560.70" y="116.66" width="0.9" height="6.28" fill="#F23645"/><rect x="560.20" y="117.45" width="1.9" height="2.75" fill="#F23645"/><rect x="563.22" y="115.82" width="0.9" height="5.68" fill="#F23645"/><rect x="562.72" y="120.20" width="1.9" height="0.80" fill="#F23645"/><rect x="565.74" y="111.10" width="0.9" height="9.84" fill="#089981"/><rect x="565.24" y="111.16" width="1.9" height="9.78" fill="#089981"/><rect x="568.27" y="100.66" width="0.9" height="14.79" fill="#F23645"/><rect x="567.77" y="111.16" width="1.9" height="2.10" fill="#F23645"/><rect x="570.79" y="107.60" width="0.9" height="7.31" fill="#089981"/><rect x="570.29" y="108.26" width="1.9" height="5.00" fill="#089981"/><rect x="573.31" y="96.06" width="0.9" height="16.39" fill="#089981"/><rect x="572.81" y="97.31" width="1.9" height="10.95" fill="#089981"/><rect x="575.84" y="93.28" width="0.9" height="25.18" fill="#F23645"/><rect x="575.34" y="97.31" width="1.9" height="17.30" fill="#F23645"/><rect x="578.36" y="111.43" width="0.9" height="8.33" fill="#F23645"/><rect x="577.86" y="114.61" width="1.9" height="3.29" fill="#F23645"/><rect x="580.88" y="115.63" width="0.9" height="2.85" fill="#089981"/><rect x="580.38" y="117.76" width="1.9" height="0.80" fill="#089981"/><rect x="583.41" y="113.64" width="0.9" height="4.84" fill="#089981"/><rect x="582.91" y="117.68" width="1.9" height="0.80" fill="#089981"/><rect x="585.93" y="117.20" width="0.9" height="10.02" fill="#F23645"/><rect x="585.43" y="117.68" width="1.9" height="4.07" fill="#F23645"/><rect x="588.45" y="120.03" width="0.9" height="13.78" fill="#F23645"/><rect x="587.95" y="121.74" width="1.9" height="11.58" fill="#F23645"/><rect x="590.98" y="127.31" width="0.9" height="7.72" fill="#089981"/><rect x="590.48" y="128.50" width="1.9" height="4.83" fill="#089981"/><rect x="593.50" y="126.60" width="0.9" height="9.69" fill="#F23645"/><rect x="593.00" y="128.50" width="1.9" height="6.11" fill="#F23645"/><rect x="596.03" y="117.60" width="0.9" height="19.83" fill="#089981"/><rect x="595.53" y="119.30" width="1.9" height="15.31" fill="#089981"/><rect x="598.55" y="118.97" width="0.9" height="8.53" fill="#F23645"/><rect x="598.05" y="119.30" width="1.9" height="5.17" fill="#F23645"/><rect x="601.07" y="123.68" width="0.9" height="17.21" fill="#F23645"/><rect x="600.57" y="124.47" width="1.9" height="6.71" fill="#F23645"/><rect x="603.60" y="130.63" width="0.9" height="14.92" fill="#F23645"/><rect x="603.10" y="131.18" width="1.9" height="11.67" fill="#F23645"/><rect x="606.12" y="135.06" width="0.9" height="12.79" fill="#089981"/><rect x="605.62" y="137.15" width="1.9" height="5.70" fill="#089981"/><rect x="608.64" y="134.18" width="0.9" height="7.87" fill="#F23645"/><rect x="608.14" y="137.15" width="1.9" height="1.73" fill="#F23645"/><rect x="611.17" y="131.21" width="0.9" height="9.05" fill="#089981"/><rect x="610.67" y="134.38" width="1.9" height="4.50" fill="#089981"/><rect x="613.69" y="134.13" width="0.9" height="17.86" fill="#F23645"/><rect x="613.19" y="134.38" width="1.9" height="14.46" fill="#F23645"/><rect x="616.21" y="146.85" width="0.9" height="5.53" fill="#089981"/><rect x="615.71" y="147.32" width="1.9" height="1.52" fill="#089981"/><rect x="618.74" y="144.97" width="0.9" height="4.92" fill="#F23645"/><rect x="618.24" y="147.32" width="1.9" height="1.97" fill="#F23645"/><rect x="621.26" y="143.54" width="0.9" height="9.17" fill="#089981"/><rect x="620.76" y="145.87" width="1.9" height="3.42" fill="#089981"/><rect x="623.78" y="137.13" width="0.9" height="11.66" fill="#089981"/><rect x="623.28" y="138.96" width="1.9" height="6.91" fill="#089981"/><rect x="626.31" y="134.35" width="0.9" height="7.07" fill="#089981"/><rect x="625.81" y="137.35" width="1.9" height="1.61" fill="#089981"/><rect x="628.83" y="135.62" width="0.9" height="9.93" fill="#F23645"/><rect x="628.33" y="137.35" width="1.9" height="3.37" fill="#F23645"/><rect x="631.35" y="131.56" width="0.9" height="10.97" fill="#F23645"/><rect x="630.85" y="140.72" width="1.9" height="0.80" fill="#F23645"/><rect x="633.88" y="138.73" width="0.9" height="4.59" fill="#F23645"/><rect x="633.38" y="140.97" width="1.9" height="1.63" fill="#F23645"/><rect x="636.40" y="137.72" width="0.9" height="4.90" fill="#089981"/><rect x="635.90" y="139.32" width="1.9" height="3.28" fill="#089981"/><rect x="638.92" y="133.15" width="0.9" height="7.95" fill="#089981"/><rect x="638.42" y="136.11" width="1.9" height="3.20" fill="#089981"/><rect x="641.45" y="131.87" width="0.9" height="8.72" fill="#F23645"/><rect x="640.95" y="136.11" width="1.9" height="1.79" fill="#F23645"/><rect x="643.97" y="128.35" width="0.9" height="11.72" fill="#089981"/><rect x="643.47" y="129.57" width="1.9" height="8.33" fill="#089981"/><rect x="646.50" y="124.30" width="0.9" height="7.10" fill="#089981"/><rect x="646.00" y="124.32" width="1.9" height="5.25" fill="#089981"/><rect x="649.02" y="120.23" width="0.9" height="6.65" fill="#089981"/><rect x="648.52" y="122.42" width="1.9" height="1.89" fill="#089981"/><rect x="651.54" y="121.50" width="0.9" height="3.66" fill="#F23645"/><rect x="651.04" y="122.42" width="1.9" height="0.80" fill="#F23645"/><rect x="654.07" y="121.96" width="0.9" height="3.48" fill="#F23645"/><rect x="653.57" y="122.70" width="1.9" height="2.35" fill="#F23645"/><rect x="656.59" y="119.83" width="0.9" height="8.27" fill="#089981"/><rect x="656.09" y="124.77" width="1.9" height="0.80" fill="#089981"/><rect x="659.11" y="119.20" width="0.9" height="7.75" fill="#089981"/><rect x="658.61" y="119.81" width="1.9" height="4.96" fill="#089981"/><rect x="661.64" y="118.09" width="0.9" height="8.86" fill="#F23645"/><rect x="661.14" y="119.81" width="1.9" height="1.10" fill="#F23645"/><rect x="664.16" y="115.97" width="0.9" height="6.24" fill="#089981"/><rect x="663.66" y="118.60" width="1.9" height="2.31" fill="#089981"/><rect x="666.68" y="117.49" width="0.9" height="8.14" fill="#F23645"/><rect x="666.18" y="118.60" width="1.9" height="5.20" fill="#F23645"/><rect x="669.21" y="122.11" width="0.9" height="2.49" fill="#089981"/><rect x="668.71" y="123.62" width="1.9" height="0.80" fill="#089981"/><rect x="671.73" y="123.09" width="0.9" height="2.35" fill="#F23645"/><rect x="671.23" y="123.62" width="1.9" height="1.56" fill="#F23645"/><rect x="674.25" y="124.64" width="0.9" height="12.08" fill="#F23645"/><rect x="673.75" y="125.18" width="1.9" height="8.91" fill="#F23645"/><rect x="676.78" y="131.88" width="0.9" height="6.30" fill="#F23645"/><rect x="676.28" y="134.09" width="1.9" height="2.25" fill="#F23645"/><rect x="679.30" y="129.64" width="0.9" height="9.94" fill="#089981"/><rect x="678.80" y="131.82" width="1.9" height="4.52" fill="#089981"/><rect x="681.82" y="131.16" width="0.9" height="16.81" fill="#F23645"/><rect x="681.32" y="131.82" width="1.9" height="14.70" fill="#F23645"/><rect x="684.35" y="142.20" width="0.9" height="5.80" fill="#089981"/><rect x="683.85" y="144.47" width="1.9" height="2.05" fill="#089981"/><rect x="686.87" y="144.04" width="0.9" height="2.45" fill="#F23645"/><rect x="686.37" y="144.47" width="1.9" height="0.80" fill="#F23645"/><rect x="689.39" y="135.13" width="0.9" height="10.94" fill="#089981"/><rect x="688.89" y="135.77" width="1.9" height="8.73" fill="#089981"/><rect x="691.92" y="128.05" width="0.9" height="9.80" fill="#089981"/><rect x="691.42" y="128.36" width="1.9" height="7.41" fill="#089981"/><rect x="694.44" y="126.70" width="0.9" height="7.37" fill="#F23645"/><rect x="693.94" y="128.36" width="1.9" height="0.90" fill="#F23645"/><rect x="696.97" y="113.38" width="0.9" height="16.17" fill="#089981"/><rect x="696.47" y="113.57" width="1.9" height="15.69" fill="#089981"/><rect x="699.49" y="105.19" width="0.9" height="9.47" fill="#089981"/><rect x="698.99" y="106.89" width="1.9" height="6.68" fill="#089981"/><rect x="702.01" y="95.28" width="0.9" height="16.03" fill="#089981"/><rect x="701.51" y="101.02" width="1.9" height="5.88" fill="#089981"/><rect x="704.54" y="98.61" width="0.9" height="4.77" fill="#089981"/><rect x="704.04" y="100.46" width="1.9" height="0.80" fill="#089981"/><rect x="707.06" y="89.02" width="0.9" height="12.45" fill="#089981"/><rect x="706.56" y="96.70" width="1.9" height="3.76" fill="#089981"/><rect x="709.58" y="87.32" width="0.9" height="10.75" fill="#089981"/><rect x="709.08" y="92.64" width="1.9" height="4.06" fill="#089981"/><rect x="712.11" y="91.03" width="0.9" height="15.71" fill="#F23645"/><rect x="711.61" y="92.64" width="1.9" height="11.48" fill="#F23645"/><rect x="714.63" y="94.23" width="0.9" height="10.81" fill="#089981"/><rect x="714.13" y="97.31" width="1.9" height="6.81" fill="#089981"/><rect x="717.15" y="95.73" width="0.9" height="14.19" fill="#F23645"/><rect x="716.65" y="97.31" width="1.9" height="5.68" fill="#F23645"/><rect x="719.68" y="99.92" width="0.9" height="70.94" fill="#F23645"/><rect x="719.18" y="102.98" width="1.9" height="29.16" fill="#F23645"/><rect x="722.20" y="131.77" width="0.9" height="12.98" fill="#F23645"/><rect x="721.70" y="132.15" width="1.9" height="8.87" fill="#F23645"/><rect x="724.72" y="123.32" width="0.9" height="21.42" fill="#089981"/><rect x="724.22" y="126.12" width="1.9" height="14.89" fill="#089981"/><rect x="727.25" y="122.66" width="0.9" height="8.10" fill="#089981"/><rect x="726.75" y="125.41" width="1.9" height="0.80" fill="#089981"/><rect x="729.77" y="124.57" width="0.9" height="19.13" fill="#F23645"/><rect x="729.27" y="125.41" width="1.9" height="7.38" fill="#F23645"/><rect x="732.29" y="130.77" width="0.9" height="11.90" fill="#F23645"/><rect x="731.79" y="132.79" width="1.9" height="7.82" fill="#F23645"/><rect x="734.82" y="136.45" width="0.9" height="15.67" fill="#F23645"/><rect x="734.32" y="140.61" width="1.9" height="8.90" fill="#F23645"/><rect x="737.34" y="145.86" width="0.9" height="19.72" fill="#F23645"/><rect x="736.84" y="149.50" width="1.9" height="5.93" fill="#F23645"/><rect x="739.86" y="151.87" width="0.9" height="4.05" fill="#089981"/><rect x="739.36" y="152.91" width="1.9" height="2.52" fill="#089981"/><rect x="742.39" y="145.14" width="0.9" height="11.55" fill="#089981"/><rect x="741.89" y="147.84" width="1.9" height="5.07" fill="#089981"/><rect x="744.91" y="137.35" width="0.9" height="14.85" fill="#089981"/><rect x="744.41" y="141.21" width="1.9" height="6.63" fill="#089981"/><rect x="747.44" y="129.43" width="0.9" height="22.53" fill="#F23645"/><rect x="746.94" y="141.21" width="1.9" height="7.29" fill="#F23645"/><rect x="749.96" y="146.44" width="0.9" height="8.31" fill="#F23645"/><rect x="749.46" y="148.50" width="1.9" height="2.72" fill="#F23645"/><rect x="752.48" y="141.24" width="0.9" height="10.63" fill="#089981"/><rect x="751.98" y="143.00" width="1.9" height="8.22" fill="#089981"/><rect x="755.01" y="135.99" width="0.9" height="8.28" fill="#089981"/><rect x="754.51" y="139.67" width="1.9" height="3.33" fill="#089981"/><rect x="757.53" y="136.53" width="0.9" height="4.37" fill="#089981"/><rect x="757.03" y="137.58" width="1.9" height="2.10" fill="#089981"/><rect x="760.05" y="124.37" width="0.9" height="14.52" fill="#089981"/><rect x="759.55" y="127.50" width="1.9" height="10.07" fill="#089981"/><rect x="762.58" y="121.15" width="0.9" height="8.98" fill="#F23645"/><rect x="762.08" y="127.50" width="1.9" height="1.56" fill="#F23645"/><rect x="765.10" y="122.23" width="0.9" height="13.38" fill="#F23645"/><rect x="764.60" y="129.06" width="1.9" height="4.17" fill="#F23645"/><rect x="767.62" y="132.97" width="0.9" height="3.02" fill="#F23645"/><rect x="767.12" y="133.23" width="1.9" height="1.70" fill="#F23645"/></g>
<polyline points="5.98,201.13 8.50,200.94 11.02,200.44 13.55,199.81 16.07,199.18 18.59,198.57 21.12,197.47 23.64,197.12 26.16,197.03 28.69,197.29 31.21,197.24 33.73,197.21 36.26,197.20 38.78,197.18 41.31,196.89 43.83,196.07 46.35,195.35 48.88,194.11 51.40,192.85 53.92,192.08 56.45,191.21 58.97,189.85 61.49,188.88 64.02,187.91 66.54,186.85 69.06,185.85 71.59,185.18 74.11,184.60 76.63,184.15 79.16,183.40 81.68,182.54 84.20,182.02 86.73,181.77 89.25,181.92 91.78,181.58 94.30,181.73 96.82,182.04 99.35,182.33 101.87,182.63 104.39,182.92 106.92,183.20 109.44,183.33 111.96,183.68 114.49,183.74 117.01,183.96 119.53,184.06 122.06,184.14 124.58,184.42 127.10,184.73 129.63,185.05 132.15,185.22 134.68,185.15 137.20,185.38 139.72,185.55 142.25,185.75 144.77,186.58 147.29,187.76 149.82,189.50 152.34,191.11 154.86,192.71 157.39,194.01 159.91,194.15 162.43,195.37 164.96,196.40 167.48,196.94 170.00,197.55 172.53,198.56 175.05,199.61 177.57,201.36 180.10,203.34 182.62,204.64 185.14,205.80 187.67,207.26 190.19,208.27 192.72,209.19 195.24,210.32 197.76,211.21 200.29,212.23 202.81,212.66 205.33,213.44 207.86,214.20 210.38,214.96 212.90,215.39 215.43,215.60 217.95,215.83 220.47,216.10 223.00,216.33 225.52,216.93 228.04,217.74 230.57,218.56 233.09,219.32 235.61,219.70 238.14,220.42 240.66,221.02 243.19,221.50 245.71,222.02 248.23,223.20 250.76,224.24 253.28,225.62 255.80,226.10 258.33,226.96 260.85,227.28 263.37,227.33 265.90,227.58 268.42,227.72 270.94,227.97 273.47,228.16 275.99,228.23 278.51,228.35 281.04,228.38 283.56,228.41 286.08,228.11 288.61,227.02 291.13,225.94 293.66,224.87 296.18,223.75 298.70,222.67 301.23,221.76 303.75,220.71 306.27,219.80 308.80,218.94 311.32,217.80 313.84,216.65 316.37,215.68 318.89,214.97 321.41,214.22 323.94,213.22 326.46,212.23 328.98,210.44 331.51,208.76 334.03,206.91 336.56,205.21 339.08,203.75 341.60,202.17 344.13,200.73 346.65,199.32 349.17,198.01 351.70,196.79 354.22,195.17 356.74,193.73 359.27,192.18 361.79,190.31 364.31,188.23 366.84,186.84 369.36,185.43 371.88,183.90 374.41,182.38 376.93,180.99 379.45,179.80 381.98,178.96 384.50,178.37 387.02,177.72 389.55,176.96 392.07,176.19 394.60,175.52 397.12,174.97 399.64,174.87 402.17,174.41 404.69,173.78 407.21,173.15 409.74,171.94 412.26,170.78 414.78,169.88 417.31,169.42 419.83,168.94 422.35,168.55 424.88,168.16 427.40,167.61 429.92,167.40 432.45,167.14 434.97,166.93 437.49,166.91 440.02,167.04 442.54,167.33 445.07,167.02 447.59,166.62 450.11,166.06 452.64,165.58 455.16,165.10 457.68,164.61 460.21,164.00 462.73,163.57 465.25,163.36 467.78,162.72 470.30,162.01 472.82,161.55 475.35,161.08 477.87,160.49 480.39,160.04 482.92,159.53 485.44,158.73 487.96,157.31 490.49,155.74 493.01,154.24 495.54,152.58 498.06,150.88 500.58,149.53 503.11,148.12 505.63,146.68 508.15,145.48 510.68,144.33 513.20,143.30 515.72,142.30 518.25,140.99 520.77,139.89 523.29,138.89 525.82,138.03 528.34,137.17 530.86,136.13 533.39,135.32 535.91,134.57 538.43,133.85 540.96,133.44 543.48,133.38 546.01,133.42 548.53,133.24 551.05,132.95 553.58,132.80 556.10,132.53 558.62,131.94 561.15,131.48 563.67,131.06 566.19,130.28 568.72,129.62 571.24,128.78 573.76,127.54 576.29,127.04 578.81,126.68 581.33,126.33 583.86,125.99 586.38,125.82 588.90,126.12 591.43,126.21 593.95,126.54 596.48,126.26 599.00,126.19 601.52,126.38 604.05,127.03 606.57,127.42 609.09,127.87 611.62,128.13 614.14,128.94 616.66,129.66 619.19,130.43 621.71,131.04 624.23,131.35 626.76,131.58 629.28,131.94 631.80,132.30 634.33,132.70 636.85,132.96 639.38,133.08 641.90,133.27 644.42,133.13 646.95,132.78 649.47,132.38 651.99,132.00 654.52,131.72 657.04,131.45 659.56,130.99 662.09,130.60 664.61,130.13 667.13,129.88 669.66,129.63 672.18,129.46 674.70,129.64 677.23,129.90 679.75,129.98 682.27,130.63 684.80,131.17 687.32,131.69 689.84,131.85 692.37,131.72 694.89,131.62 697.42,130.91 699.94,129.97 702.46,128.83 704.99,127.72 707.51,126.51 710.03,125.18 712.56,124.35 715.08,123.29 717.60,122.50 720.13,122.87 722.65,123.59 725.17,123.68 727.70,123.75 730.22,124.11 732.74,124.75 735.27,125.72 737.79,126.89 740.31,127.91 742.84,128.69 745.36,129.18 747.89,129.94 750.41,130.77 752.93,131.25 755.46,131.58 757.98,131.82 760.50,131.65 763.03,131.55 765.55,131.61 768.07,131.74" fill="none" stroke="#FF0000" stroke-width="2" stroke-linejoin="round"/>
<rect x="456.6" y="175.8" width="1.2" height="1.2" fill="#4CAF50" opacity="0.6"/>
<rect x="499.5" y="169.9" width="1.2" height="1.2" fill="#4CAF50" opacity="0.6"/>
<rect x="260.1" y="179.7" width="1.2" height="1.2" fill="#4CAF50" opacity="0.6"/>
<rect x="214.0" y="252.4" width="1.2" height="1.2" fill="#4CAF50" opacity="0.6"/>
<rect x="464.0" y="205.9" width="1.2" height="1.2" fill="#F23645" opacity="0.6"/>
<rect x="466.9" y="206.4" width="1.2" height="1.2" fill="#F23645" opacity="0.6"/>
<rect x="641.1" y="206.1" width="1.2" height="1.2" fill="#F23645" opacity="0.6"/>
<rect x="151.2" y="179.8" width="1.2" height="1.2" fill="#F23645" opacity="0.6"/>
<rect x="151.9" y="90.9" width="1.2" height="1.2" fill="#F23645" opacity="0.6"/>
<rect x="507.2" y="117.6" width="1.5" height="1.5" fill="#333"/>
<line x1="320.6" y1="199.8" x2="800.5" y2="133.4" stroke="#000" stroke-width="1.5"/>
<polyline points="770.1,125.4 780.5,113.3 790,121.9 798.2,108.4" fill="none" stroke="#4CAF50" stroke-width="1"/>
<polyline points="792.2,110.2 798.2,108.4 799.8,114.5" fill="none" stroke="#4CAF50" stroke-width="1"/>
<text x="782.6" y="90.92" font-size="10" fill="#131722" text-anchor="start" font-weight="normal" textLength="94.4" lengthAdjust="spacingAndGlyphs">100.00% (126,199.63)</text>
<text x="782.6" y="129.1" font-size="10" fill="#131722" text-anchor="start" font-weight="normal" textLength="89.4" lengthAdjust="spacingAndGlyphs">78.60% (115,137.62)</text>
<text x="782.6" y="159.08" font-size="10" fill="#131722" text-anchor="start" font-weight="normal" textLength="89.4" lengthAdjust="spacingAndGlyphs">61.80% (106,453.43)</text>
<text x="782.6" y="180.14" font-size="10" fill="#131722" text-anchor="start" font-weight="normal" textLength="89.4" lengthAdjust="spacingAndGlyphs">50.00% (100,353.82)</text>
<text x="782.6" y="269.36" font-size="10" fill="#131722" text-anchor="start" font-weight="normal" textLength="79" lengthAdjust="spacingAndGlyphs">0.00% (74,508.00)</text>
<text x="1086" y="81.5" font-size="9.8" fill="#4CAF50" text-anchor="start" font-weight="bold" textLength="41.5" lengthAdjust="spacingAndGlyphs">New ATH</text>
<text x="1040.2" y="102.8" font-size="9.8" fill="#2962FF" text-anchor="start" font-weight="bold" textLength="87.3" lengthAdjust="spacingAndGlyphs">Psychological level</text>
<clipPath id="ob"><rect x="0" y="269.4" width="1134" height="42.0"/></clipPath>
<clipPath id="os"><rect x="0" y="367.4" width="1134" height="42.0"/></clipPath>
<polygon points="5.98,311.40 5.98,348.34 8.50,344.81 11.02,337.11 13.55,333.80 16.07,333.41 18.59,333.16 21.12,322.39 23.64,339.74 26.16,344.80 28.69,351.01 31.21,344.29 33.73,344.64 36.26,344.86 38.78,344.76 41.31,337.92 43.83,326.86 46.35,328.69 48.88,319.29 51.40,318.31 53.92,329.65 56.45,327.41 58.97,319.09 61.49,327.07 64.02,326.62 66.54,324.41 69.06,324.68 71.59,332.45 74.11,334.28 76.63,336.87 79.16,329.70 81.68,326.98 84.20,335.32 86.73,341.13 89.25,349.43 91.78,338.28 94.30,347.42 96.82,350.07 99.35,350.20 101.87,350.32 104.39,350.49 106.92,350.42 109.44,346.44 111.96,351.65 114.49,343.31 117.01,347.40 119.53,343.89 122.06,343.61 124.58,348.74 127.10,349.90 129.63,350.44 132.15,345.50 134.68,337.80 137.20,346.64 139.72,344.60 142.25,345.82 144.77,361.05 147.29,367.61 149.82,375.29 152.34,373.17 154.86,373.77 157.39,365.53 159.91,337.74 162.43,354.51 164.96,351.77 167.48,343.71 170.00,345.09 172.53,351.18 175.05,352.26 177.57,361.34 180.10,364.34 182.62,352.94 185.14,351.11 187.67,355.46 190.19,348.37 192.72,347.51 195.24,350.91 197.76,347.16 200.29,349.82 202.81,339.51 205.33,345.26 207.86,345.52 210.38,346.00 212.90,340.06 215.43,336.42 217.95,336.72 220.47,338.14 223.00,337.18 225.52,345.47 228.04,350.10 230.57,350.77 233.09,350.16 235.61,340.84 238.14,348.51 240.66,346.07 243.19,343.68 245.71,344.81 248.23,358.47 250.76,355.65 253.28,361.93 255.80,341.77 258.33,348.59 260.85,339.01 263.37,334.86 265.90,338.58 268.42,336.60 270.94,339.07 273.47,338.05 275.99,335.56 278.51,337.02 281.04,335.24 283.56,334.92 286.08,328.02 288.61,314.93 291.13,314.48 293.66,313.92 296.18,312.61 298.70,312.65 301.23,316.85 303.75,313.93 306.27,317.39 308.80,317.79 311.32,311.96 313.84,311.02 316.37,316.74 318.89,324.84 321.41,323.37 323.94,317.10 326.46,316.54 328.98,303.23 331.51,304.62 334.03,301.72 336.56,304.89 339.08,311.69 341.60,308.79 344.13,312.13 346.65,311.64 349.17,313.12 351.70,315.30 354.22,306.91 356.74,311.80 359.27,308.96 361.79,303.04 364.31,299.67 366.84,320.71 369.36,319.52 371.88,316.61 374.41,315.67 376.93,317.88 379.45,323.54 381.98,332.85 384.50,339.10 387.02,336.80 389.55,333.19 392.07,332.37 394.60,334.41 397.12,337.74 399.64,350.06 402.17,338.85 404.69,334.22 407.21,333.60 409.74,320.43 412.26,320.40 414.78,327.50 417.31,338.60 419.83,337.56 422.35,339.62 424.88,338.94 427.40,334.41 429.92,343.11 432.45,341.76 434.97,342.65 437.49,347.89 440.02,352.07 442.54,355.93 445.07,337.35 447.59,334.76 450.11,330.54 452.64,332.22 455.16,331.85 457.68,330.90 460.21,326.87 462.73,333.07 465.25,339.71 467.78,327.73 470.30,325.34 472.82,332.72 475.35,331.93 477.87,328.21 480.39,332.80 482.92,330.21 485.44,322.08 487.96,310.04 490.49,307.06 493.01,307.49 495.54,304.30 498.06,302.91 500.58,314.13 503.11,312.10 505.63,310.83 508.15,317.57 510.68,318.02 513.20,321.21 515.72,320.82 518.25,312.98 520.77,319.83 523.29,322.14 525.82,326.19 528.34,325.02 530.86,319.58 533.39,327.39 535.91,328.64 538.43,328.94 540.96,340.01 543.48,350.63 546.01,353.43 548.53,344.85 551.05,340.98 553.58,344.99 556.10,340.65 558.62,330.16 561.15,334.01 563.67,335.04 566.19,324.23 568.72,327.36 571.24,322.37 573.76,313.44 576.29,334.83 578.81,338.09 581.33,337.96 583.86,337.87 586.38,342.37 588.90,353.22 591.43,347.54 593.95,352.77 596.48,337.29 599.00,341.85 601.52,347.34 604.05,355.54 606.57,349.94 609.09,351.18 611.62,346.68 614.14,356.71 616.66,355.16 619.19,356.47 621.71,352.70 624.23,345.52 626.76,343.91 629.28,346.89 631.80,347.11 634.33,348.66 636.85,344.61 639.38,340.78 641.90,342.82 644.42,333.30 646.95,328.12 649.47,326.33 651.99,326.73 654.52,330.19 657.04,329.87 659.56,324.27 662.09,326.12 664.61,323.48 667.13,332.18 669.66,331.95 672.18,334.58 674.70,347.51 677.23,350.29 679.75,343.14 682.27,358.81 684.80,355.74 687.32,355.77 689.84,343.26 692.37,334.62 694.89,335.75 697.42,321.12 699.94,316.38 702.46,312.62 704.99,312.27 707.51,309.88 710.03,307.43 712.56,323.35 715.08,318.45 717.60,325.30 720.13,350.02 722.65,355.24 725.17,343.47 727.70,342.95 730.22,347.77 732.74,352.48 735.27,357.36 737.79,360.37 740.31,358.02 742.84,353.33 745.36,347.50 747.89,352.20 750.41,353.89 752.93,346.47 755.46,343.62 757.98,341.81 760.50,333.68 763.03,335.07 765.55,338.81 768.07,340.33 768.07,311.40" fill="rgba(76,175,80,0.1)" clip-path="url(#ob)"/>
<polygon points="5.98,367.40 5.98,348.34 8.50,344.81 11.02,337.11 13.55,333.80 16.07,333.41 18.59,333.16 21.12,322.39 23.64,339.74 26.16,344.80 28.69,351.01 31.21,344.29 33.73,344.64 36.26,344.86 38.78,344.76 41.31,337.92 43.83,326.86 46.35,328.69 48.88,319.29 51.40,318.31 53.92,329.65 56.45,327.41 58.97,319.09 61.49,327.07 64.02,326.62 66.54,324.41 69.06,324.68 71.59,332.45 74.11,334.28 76.63,336.87 79.16,329.70 81.68,326.98 84.20,335.32 86.73,341.13 89.25,349.43 91.78,338.28 94.30,347.42 96.82,350.07 99.35,350.20 101.87,350.32 104.39,350.49 106.92,350.42 109.44,346.44 111.96,351.65 114.49,343.31 117.01,347.40 119.53,343.89 122.06,343.61 124.58,348.74 127.10,349.90 129.63,350.44 132.15,345.50 134.68,337.80 137.20,346.64 139.72,344.60 142.25,345.82 144.77,361.05 147.29,367.61 149.82,375.29 152.34,373.17 154.86,373.77 157.39,365.53 159.91,337.74 162.43,354.51 164.96,351.77 167.48,343.71 170.00,345.09 172.53,351.18 175.05,352.26 177.57,361.34 180.10,364.34 182.62,352.94 185.14,351.11 187.67,355.46 190.19,348.37 192.72,347.51 195.24,350.91 197.76,347.16 200.29,349.82 202.81,339.51 205.33,345.26 207.86,345.52 210.38,346.00 212.90,340.06 215.43,336.42 217.95,336.72 220.47,338.14 223.00,337.18 225.52,345.47 228.04,350.10 230.57,350.77 233.09,350.16 235.61,340.84 238.14,348.51 240.66,346.07 243.19,343.68 245.71,344.81 248.23,358.47 250.76,355.65 253.28,361.93 255.80,341.77 258.33,348.59 260.85,339.01 263.37,334.86 265.90,338.58 268.42,336.60 270.94,339.07 273.47,338.05 275.99,335.56 278.51,337.02 281.04,335.24 283.56,334.92 286.08,328.02 288.61,314.93 291.13,314.48 293.66,313.92 296.18,312.61 298.70,312.65 301.23,316.85 303.75,313.93 306.27,317.39 308.80,317.79 311.32,311.96 313.84,311.02 316.37,316.74 318.89,324.84 321.41,323.37 323.94,317.10 326.46,316.54 328.98,303.23 331.51,304.62 334.03,301.72 336.56,304.89 339.08,311.69 341.60,308.79 344.13,312.13 346.65,311.64 349.17,313.12 351.70,315.30 354.22,306.91 356.74,311.80 359.27,308.96 361.79,303.04 364.31,299.67 366.84,320.71 369.36,319.52 371.88,316.61 374.41,315.67 376.93,317.88 379.45,323.54 381.98,332.85 384.50,339.10 387.02,336.80 389.55,333.19 392.07,332.37 394.60,334.41 397.12,337.74 399.64,350.06 402.17,338.85 404.69,334.22 407.21,333.60 409.74,320.43 412.26,320.40 414.78,327.50 417.31,338.60 419.83,337.56 422.35,339.62 424.88,338.94 427.40,334.41 429.92,343.11 432.45,341.76 434.97,342.65 437.49,347.89 440.02,352.07 442.54,355.93 445.07,337.35 447.59,334.76 450.11,330.54 452.64,332.22 455.16,331.85 457.68,330.90 460.21,326.87 462.73,333.07 465.25,339.71 467.78,327.73 470.30,325.34 472.82,332.72 475.35,331.93 477.87,328.21 480.39,332.80 482.92,330.21 485.44,322.08 487.96,310.04 490.49,307.06 493.01,307.49 495.54,304.30 498.06,302.91 500.58,314.13 503.11,312.10 505.63,310.83 508.15,317.57 510.68,318.02 513.20,321.21 515.72,320.82 518.25,312.98 520.77,319.83 523.29,322.14 525.82,326.19 528.34,325.02 530.86,319.58 533.39,327.39 535.91,328.64 538.43,328.94 540.96,340.01 543.48,350.63 546.01,353.43 548.53,344.85 551.05,340.98 553.58,344.99 556.10,340.65 558.62,330.16 561.15,334.01 563.67,335.04 566.19,324.23 568.72,327.36 571.24,322.37 573.76,313.44 576.29,334.83 578.81,338.09 581.33,337.96 583.86,337.87 586.38,342.37 588.90,353.22 591.43,347.54 593.95,352.77 596.48,337.29 599.00,341.85 601.52,347.34 604.05,355.54 606.57,349.94 609.09,351.18 611.62,346.68 614.14,356.71 616.66,355.16 619.19,356.47 621.71,352.70 624.23,345.52 626.76,343.91 629.28,346.89 631.80,347.11 634.33,348.66 636.85,344.61 639.38,340.78 641.90,342.82 644.42,333.30 646.95,328.12 649.47,326.33 651.99,326.73 654.52,330.19 657.04,329.87 659.56,324.27 662.09,326.12 664.61,323.48 667.13,332.18 669.66,331.95 672.18,334.58 674.70,347.51 677.23,350.29 679.75,343.14 682.27,358.81 684.80,355.74 687.32,355.77 689.84,343.26 692.37,334.62 694.89,335.75 697.42,321.12 699.94,316.38 702.46,312.62 704.99,312.27 707.51,309.88 710.03,307.43 712.56,323.35 715.08,318.45 717.60,325.30 720.13,350.02 722.65,355.24 725.17,343.47 727.70,342.95 730.22,347.77 732.74,352.48 735.27,357.36 737.79,360.37 740.31,358.02 742.84,353.33 745.36,347.50 747.89,352.20 750.41,353.89 752.93,346.47 755.46,343.62 757.98,341.81 760.50,333.68 763.03,335.07 765.55,338.81 768.07,340.33 768.07,367.40" fill="rgba(242,54,69,0.12)" clip-path="url(#os)"/>
<polyline points="5.98,342.89 8.50,343.76 11.02,343.54 13.55,343.15 16.07,342.64 18.59,341.69 21.12,339.92 23.64,340.20 26.16,340.99 28.69,341.49 31.21,341.24 33.73,341.23 36.26,340.96 38.78,340.51 41.31,339.76 43.83,338.48 46.35,337.88 48.88,336.84 51.40,335.77 53.92,335.52 56.45,335.87 58.97,334.40 61.49,333.13 64.02,331.39 66.54,329.97 69.06,328.55 71.59,327.66 74.11,326.91 76.63,326.84 79.16,327.04 81.68,326.92 84.20,328.06 86.73,329.69 89.25,331.10 91.78,331.88 94.30,333.90 96.82,335.55 99.35,337.23 101.87,339.08 104.39,340.92 106.92,342.21 109.44,343.08 111.96,344.13 114.49,345.11 117.01,346.56 119.53,347.18 122.06,347.35 124.58,347.30 127.10,348.13 129.63,348.35 132.15,348.02 134.68,347.14 137.20,346.87 139.72,346.45 142.25,346.13 144.77,347.17 147.29,348.31 149.82,350.59 152.34,352.43 154.86,354.57 157.39,356.13 159.91,355.35 162.43,355.68 164.96,355.77 167.48,355.64 170.00,356.16 172.53,356.49 175.05,357.03 177.57,358.14 180.10,358.38 182.62,357.33 185.14,355.60 187.67,354.34 190.19,352.52 192.72,351.24 195.24,352.18 197.76,351.65 200.29,351.51 202.81,351.21 205.33,351.23 207.86,350.82 210.38,350.38 212.90,348.86 215.43,346.86 217.95,345.70 220.47,344.78 223.00,343.47 225.52,343.26 228.04,343.45 230.57,343.44 233.09,343.65 235.61,343.01 238.14,343.65 240.66,343.71 243.19,343.58 245.71,343.50 248.23,344.81 250.76,346.18 253.28,347.99 255.80,348.25 258.33,349.06 260.85,348.60 263.37,347.51 265.90,346.64 268.42,345.67 270.94,345.54 273.47,344.80 275.99,344.05 278.51,343.57 281.04,342.89 283.56,341.20 286.08,339.23 288.61,335.87 291.13,333.92 293.66,331.45 296.18,329.56 298.70,327.98 301.23,326.42 303.75,324.80 306.27,323.26 308.80,321.81 311.32,320.12 313.84,318.27 316.37,316.94 318.89,316.22 321.41,315.89 323.94,316.05 326.46,316.19 328.98,315.43 331.51,314.86 334.03,314.08 336.56,313.22 339.08,313.06 341.60,312.45 344.13,312.05 346.65,312.02 349.17,312.17 351.70,312.07 354.22,310.79 356.74,309.96 359.27,309.38 361.79,308.42 364.31,308.16 366.84,309.31 369.36,310.58 371.88,311.42 374.41,311.70 376.93,312.35 379.45,313.17 381.98,314.68 384.50,316.54 387.02,318.08 389.55,319.95 392.07,321.42 394.60,323.24 397.12,325.72 399.64,329.32 402.17,330.61 404.69,331.66 407.21,332.88 409.74,333.22 412.26,333.40 414.78,333.68 417.31,334.09 419.83,333.98 422.35,334.18 424.88,334.59 427.40,334.74 429.92,335.36 432.45,335.65 434.97,335.12 437.49,335.76 440.02,337.04 442.54,338.63 445.07,339.84 447.59,340.87 450.11,341.08 452.64,340.63 455.16,340.22 457.68,339.60 460.21,338.74 462.73,338.64 465.25,338.40 467.78,337.40 470.30,336.16 472.82,335.08 475.35,333.64 477.87,331.66 480.39,331.33 482.92,331.01 485.44,330.40 487.96,328.82 490.49,327.05 493.01,325.38 495.54,323.76 498.06,321.61 500.58,319.78 503.11,318.66 505.63,317.63 508.15,316.55 510.68,315.55 513.20,315.05 515.72,314.20 518.25,312.97 520.77,312.81 523.29,313.67 525.82,315.04 528.34,316.29 530.86,317.38 533.39,319.13 535.91,320.17 538.43,321.37 540.96,323.45 543.48,325.81 546.01,328.34 548.53,330.03 551.05,331.47 553.58,333.76 556.10,335.25 558.62,335.82 561.15,336.38 563.67,337.09 566.19,337.43 568.72,337.42 571.24,336.98 573.76,335.87 576.29,335.50 578.81,334.60 581.33,333.50 583.86,333.00 586.38,333.10 588.90,333.69 591.43,334.18 593.95,335.79 596.48,336.03 599.00,336.51 601.52,338.16 604.05,340.18 606.57,342.15 609.09,344.84 611.62,345.69 614.14,347.02 616.66,348.25 619.19,349.57 621.71,350.31 624.23,349.76 626.76,349.50 629.28,349.08 631.80,349.78 634.33,350.27 636.85,350.08 639.38,349.02 641.90,348.51 644.42,347.24 646.95,345.91 649.47,343.74 651.99,341.71 654.52,339.83 657.04,338.20 659.56,336.69 662.09,335.42 664.61,333.74 667.13,332.68 669.66,331.48 672.18,330.77 674.70,331.25 677.23,331.78 679.75,332.48 682.27,334.68 684.80,336.78 687.32,338.85 689.84,339.78 692.37,340.12 694.89,340.94 697.42,340.59 699.94,340.08 702.46,338.68 704.99,337.28 707.51,335.51 710.03,332.65 712.56,330.72 715.08,328.96 717.60,326.57 720.13,326.16 722.65,326.12 725.17,326.14 727.70,326.73 730.22,327.59 732.74,329.83 735.27,332.76 737.79,336.17 740.31,339.44 742.84,342.54 745.36,345.40 747.89,347.46 750.41,349.99 752.93,351.51 755.46,351.05 757.98,350.09 760.50,349.39 763.03,348.83 765.55,348.19 768.07,347.32" fill="none" stroke="#FDD835" stroke-width="1"/>
<polyline points="5.98,348.34 8.50,344.81 11.02,337.11 13.55,333.80 16.07,333.41 18.59,333.16 21.12,322.39 23.64,339.74 26.16,344.80 28.69,351.01 31.21,344.29 33.73,344.64 36.26,344.86 38.78,344.76 41.31,337.92 43.83,326.86 46.35,328.69 48.88,319.29 51.40,318.31 53.92,329.65 56.45,327.41 58.97,319.09 61.49,327.07 64.02,326.62 66.54,324.41 69.06,324.68 71.59,332.45 74.11,334.28 76.63,336.87 79.16,329.70 81.68,326.98 84.20,335.32 86.73,341.13 89.25,349.43 91.78,338.28 94.30,347.42 96.82,350.07 99.35,350.20 101.87,350.32 104.39,350.49 106.92,350.42 109.44,346.44 111.96,351.65 114.49,343.31 117.01,347.40 119.53,343.89 122.06,343.61 124.58,348.74 127.10,349.90 129.63,350.44 132.15,345.50 134.68,337.80 137.20,346.64 139.72,344.60 142.25,345.82 144.77,361.05 147.29,367.61 149.82,375.29 152.34,373.17 154.86,373.77 157.39,365.53 159.91,337.74 162.43,354.51 164.96,351.77 167.48,343.71 170.00,345.09 172.53,351.18 175.05,352.26 177.57,361.34 180.10,364.34 182.62,352.94 185.14,351.11 187.67,355.46 190.19,348.37 192.72,347.51 195.24,350.91 197.76,347.16 200.29,349.82 202.81,339.51 205.33,345.26 207.86,345.52 210.38,346.00 212.90,340.06 215.43,336.42 217.95,336.72 220.47,338.14 223.00,337.18 225.52,345.47 228.04,350.10 230.57,350.77 233.09,350.16 235.61,340.84 238.14,348.51 240.66,346.07 243.19,343.68 245.71,344.81 248.23,358.47 250.76,355.65 253.28,361.93 255.80,341.77 258.33,348.59 260.85,339.01 263.37,334.86 265.90,338.58 268.42,336.60 270.94,339.07 273.47,338.05 275.99,335.56 278.51,337.02 281.04,335.24 283.56,334.92 286.08,328.02 288.61,314.93 291.13,314.48 293.66,313.92 296.18,312.61 298.70,312.65 301.23,316.85 303.75,313.93 306.27,317.39 308.80,317.79 311.32,311.96 313.84,311.02 316.37,316.74 318.89,324.84 321.41,323.37 323.94,317.10 326.46,316.54 328.98,303.23 331.51,304.62 334.03,301.72 336.56,304.89 339.08,311.69 341.60,308.79 344.13,312.13 346.65,311.64 349.17,313.12 351.70,315.30 354.22,306.91 356.74,311.80 359.27,308.96 361.79,303.04 364.31,299.67 366.84,320.71 369.36,319.52 371.88,316.61 374.41,315.67 376.93,317.88 379.45,323.54 381.98,332.85 384.50,339.10 387.02,336.80 389.55,333.19 392.07,332.37 394.60,334.41 397.12,337.74 399.64,350.06 402.17,338.85 404.69,334.22 407.21,333.60 409.74,320.43 412.26,320.40 414.78,327.50 417.31,338.60 419.83,337.56 422.35,339.62 424.88,338.94 427.40,334.41 429.92,343.11 432.45,341.76 434.97,342.65 437.49,347.89 440.02,352.07 442.54,355.93 445.07,337.35 447.59,334.76 450.11,330.54 452.64,332.22 455.16,331.85 457.68,330.90 460.21,326.87 462.73,333.07 465.25,339.71 467.78,327.73 470.30,325.34 472.82,332.72 475.35,331.93 477.87,328.21 480.39,332.80 482.92,330.21 485.44,322.08 487.96,310.04 490.49,307.06 493.01,307.49 495.54,304.30 498.06,302.91 500.58,314.13 503.11,312.10 505.63,310.83 508.15,317.57 510.68,318.02 513.20,321.21 515.72,320.82 518.25,312.98 520.77,319.83 523.29,322.14 525.82,326.19 528.34,325.02 530.86,319.58 533.39,327.39 535.91,328.64 538.43,328.94 540.96,340.01 543.48,350.63 546.01,353.43 548.53,344.85 551.05,340.98 553.58,344.99 556.10,340.65 558.62,330.16 561.15,334.01 563.67,335.04 566.19,324.23 568.72,327.36 571.24,322.37 573.76,313.44 576.29,334.83 578.81,338.09 581.33,337.96 583.86,337.87 586.38,342.37 588.90,353.22 591.43,347.54 593.95,352.77 596.48,337.29 599.00,341.85 601.52,347.34 604.05,355.54 606.57,349.94 609.09,351.18 611.62,346.68 614.14,356.71 616.66,355.16 619.19,356.47 621.71,352.70 624.23,345.52 626.76,343.91 629.28,346.89 631.80,347.11 634.33,348.66 636.85,344.61 639.38,340.78 641.90,342.82 644.42,333.30 646.95,328.12 649.47,326.33 651.99,326.73 654.52,330.19 657.04,329.87 659.56,324.27 662.09,326.12 664.61,323.48 667.13,332.18 669.66,331.95 672.18,334.58 674.70,347.51 677.23,350.29 679.75,343.14 682.27,358.81 684.80,355.74 687.32,355.77 689.84,343.26 692.37,334.62 694.89,335.75 697.42,321.12 699.94,316.38 702.46,312.62 704.99,312.27 707.51,309.88 710.03,307.43 712.56,323.35 715.08,318.45 717.60,325.30 720.13,350.02 722.65,355.24 725.17,343.47 727.70,342.95 730.22,347.77 732.74,352.48 735.27,357.36 737.79,360.37 740.31,358.02 742.84,353.33 745.36,347.50 747.89,352.20 750.41,353.89 752.93,346.47 755.46,343.62 757.98,341.81 760.50,333.68 763.03,335.07 765.55,338.81 768.07,340.33" fill="none" stroke="#7E57C2" stroke-width="1"/>
<g clip-path="url(#pc)"><rect x="5.33" y="421.30" width="1.3" height="8.80" fill="#92d2c8"/><rect x="7.85" y="425.10" width="1.3" height="5.00" fill="#92d2c8"/><rect x="10.37" y="420.10" width="1.3" height="10.00" fill="#92d2c8"/><rect x="12.90" y="423.10" width="1.3" height="7.00" fill="#92d2c8"/><rect x="15.42" y="426.10" width="1.3" height="4.00" fill="#92d2c8"/><rect x="17.94" y="426.10" width="1.3" height="4.00" fill="#92d2c8"/><rect x="20.47" y="418.10" width="1.3" height="12.00" fill="#92d2c8"/><rect x="22.99" y="415.10" width="1.3" height="15.00" fill="#f7a1a6"/><rect x="25.51" y="414.20" width="1.3" height="15.90" fill="#f7a1a6"/><rect x="28.04" y="414.20" width="1.3" height="15.90" fill="#f7a1a6"/><rect x="30.56" y="415.90" width="1.3" height="14.20" fill="#92d2c8"/><rect x="33.09" y="426.10" width="1.3" height="4.00" fill="#f7a1a6"/><rect x="35.61" y="425.90" width="1.3" height="4.20" fill="#f7a1a6"/><rect x="38.13" y="410.10" width="1.3" height="20.00" fill="#f7a1a6"/><rect x="40.66" y="417.00" width="1.3" height="13.10" fill="#92d2c8"/><rect x="43.18" y="415.90" width="1.3" height="14.20" fill="#92d2c8"/><rect x="45.70" y="417.00" width="1.3" height="13.10" fill="#f7a1a6"/><rect x="48.23" y="412.10" width="1.3" height="18.00" fill="#92d2c8"/><rect x="50.75" y="418.10" width="1.3" height="12.00" fill="#92d2c8"/><rect x="53.27" y="410.10" width="1.3" height="20.00" fill="#f7a1a6"/><rect x="55.80" y="389.80" width="1.3" height="40.30" fill="#92d2c8"/><rect x="58.32" y="409.00" width="1.3" height="21.10" fill="#92d2c8"/><rect x="60.84" y="419.80" width="1.3" height="10.30" fill="#f7a1a6"/><rect x="63.37" y="405.90" width="1.3" height="24.20" fill="#92d2c8"/><rect x="65.89" y="419.00" width="1.3" height="11.10" fill="#92d2c8"/><rect x="68.41" y="425.90" width="1.3" height="4.20" fill="#f7a1a6"/><rect x="70.94" y="425.10" width="1.3" height="5.00" fill="#f7a1a6"/><rect x="73.46" y="407.00" width="1.3" height="23.10" fill="#f7a1a6"/><rect x="75.98" y="419.80" width="1.3" height="10.30" fill="#f7a1a6"/><rect x="78.51" y="419.00" width="1.3" height="11.10" fill="#92d2c8"/><rect x="81.03" y="421.10" width="1.3" height="9.00" fill="#92d2c8"/><rect x="83.55" y="419.80" width="1.3" height="10.30" fill="#f7a1a6"/><rect x="86.08" y="424.00" width="1.3" height="6.10" fill="#f7a1a6"/><rect x="88.60" y="414.20" width="1.3" height="15.90" fill="#f7a1a6"/><rect x="91.13" y="395.90" width="1.3" height="34.20" fill="#92d2c8"/><rect x="93.65" y="412.00" width="1.3" height="18.10" fill="#f7a1a6"/><rect x="96.17" y="417.70" width="1.3" height="12.40" fill="#f7a1a6"/><rect x="98.70" y="419.00" width="1.3" height="11.10" fill="#f7a1a6"/><rect x="101.22" y="415.10" width="1.3" height="15.00" fill="#f7a1a6"/><rect x="103.74" y="425.10" width="1.3" height="5.00" fill="#f7a1a6"/><rect x="106.27" y="423.20" width="1.3" height="6.90" fill="#92d2c8"/><rect x="108.79" y="420.30" width="1.3" height="9.80" fill="#92d2c8"/><rect x="111.31" y="421.10" width="1.3" height="9.00" fill="#f7a1a6"/><rect x="113.84" y="416.20" width="1.3" height="13.90" fill="#92d2c8"/><rect x="116.36" y="420.30" width="1.3" height="9.80" fill="#f7a1a6"/><rect x="118.88" y="421.90" width="1.3" height="8.20" fill="#92d2c8"/><rect x="121.41" y="426.40" width="1.3" height="3.70" fill="#92d2c8"/><rect x="123.93" y="426.10" width="1.3" height="4.00" fill="#f7a1a6"/><rect x="126.45" y="422.20" width="1.3" height="7.90" fill="#f7a1a6"/><rect x="128.98" y="419.00" width="1.3" height="11.10" fill="#f7a1a6"/><rect x="131.50" y="422.20" width="1.3" height="7.90" fill="#92d2c8"/><rect x="134.03" y="421.90" width="1.3" height="8.20" fill="#92d2c8"/><rect x="136.55" y="415.10" width="1.3" height="15.00" fill="#f7a1a6"/><rect x="139.07" y="424.30" width="1.3" height="5.80" fill="#92d2c8"/><rect x="141.60" y="424.30" width="1.3" height="5.80" fill="#f7a1a6"/><rect x="144.12" y="415.90" width="1.3" height="14.20" fill="#f7a1a6"/><rect x="146.64" y="394.30" width="1.3" height="35.80" fill="#f7a1a6"/><rect x="149.17" y="404.30" width="1.3" height="25.80" fill="#f7a1a6"/><rect x="151.69" y="410.10" width="1.3" height="20.00" fill="#92d2c8"/><rect x="154.21" y="392.20" width="1.3" height="37.90" fill="#f7a1a6"/><rect x="156.74" y="418.00" width="1.3" height="12.10" fill="#92d2c8"/><rect x="159.26" y="405.10" width="1.3" height="25.00" fill="#92d2c8"/><rect x="161.78" y="403.00" width="1.3" height="27.10" fill="#f7a1a6"/><rect x="164.31" y="405.10" width="1.3" height="25.00" fill="#92d2c8"/><rect x="166.83" y="412.20" width="1.3" height="17.90" fill="#92d2c8"/><rect x="169.35" y="414.30" width="1.3" height="15.80" fill="#f7a1a6"/><rect x="171.88" y="403.90" width="1.3" height="26.20" fill="#f7a1a6"/><rect x="174.40" y="424.00" width="1.3" height="6.10" fill="#f7a1a6"/><rect x="176.92" y="418.00" width="1.3" height="12.10" fill="#f7a1a6"/><rect x="179.45" y="408.20" width="1.3" height="21.90" fill="#f7a1a6"/><rect x="181.97" y="407.90" width="1.3" height="22.20" fill="#92d2c8"/><rect x="184.49" y="415.10" width="1.3" height="15.00" fill="#92d2c8"/><rect x="187.02" y="417.00" width="1.3" height="13.10" fill="#f7a1a6"/><rect x="189.54" y="418.00" width="1.3" height="12.10" fill="#92d2c8"/><rect x="192.07" y="424.30" width="1.3" height="5.80" fill="#92d2c8"/><rect x="194.59" y="421.90" width="1.3" height="8.20" fill="#f7a1a6"/><rect x="197.11" y="421.90" width="1.3" height="8.20" fill="#92d2c8"/><rect x="199.64" y="421.90" width="1.3" height="8.20" fill="#f7a1a6"/><rect x="202.16" y="417.00" width="1.3" height="13.10" fill="#92d2c8"/><rect x="204.68" y="419.90" width="1.3" height="10.20" fill="#f7a1a6"/><rect x="207.21" y="424.30" width="1.3" height="5.80" fill="#f7a1a6"/><rect x="209.73" y="427.00" width="1.3" height="3.10" fill="#f7a1a6"/><rect x="212.25" y="426.10" width="1.3" height="4.00" fill="#92d2c8"/><rect x="214.78" y="416.40" width="1.3" height="13.70" fill="#92d2c8"/><rect x="217.30" y="419.90" width="1.3" height="10.20" fill="#f7a1a6"/><rect x="219.82" y="421.10" width="1.3" height="9.00" fill="#f7a1a6"/><rect x="222.35" y="421.90" width="1.3" height="8.20" fill="#92d2c8"/><rect x="224.87" y="417.90" width="1.3" height="12.20" fill="#f7a1a6"/><rect x="227.39" y="424.30" width="1.3" height="5.80" fill="#f7a1a6"/><rect x="229.92" y="425.10" width="1.3" height="5.00" fill="#f7a1a6"/><rect x="232.44" y="420.10" width="1.3" height="10.00" fill="#92d2c8"/><rect x="234.96" y="420.10" width="1.3" height="10.00" fill="#92d2c8"/><rect x="237.49" y="412.00" width="1.3" height="18.10" fill="#f7a1a6"/><rect x="240.01" y="417.00" width="1.3" height="13.10" fill="#92d2c8"/><rect x="242.54" y="415.10" width="1.3" height="15.00" fill="#92d2c8"/><rect x="245.06" y="425.10" width="1.3" height="5.00" fill="#f7a1a6"/><rect x="247.58" y="417.00" width="1.3" height="13.10" fill="#f7a1a6"/><rect x="250.11" y="394.30" width="1.3" height="35.80" fill="#92d2c8"/><rect x="252.63" y="414.00" width="1.3" height="16.10" fill="#f7a1a6"/><rect x="255.15" y="396.00" width="1.3" height="34.10" fill="#92d2c8"/><rect x="257.68" y="414.30" width="1.3" height="15.80" fill="#f7a1a6"/><rect x="260.20" y="414.30" width="1.3" height="15.80" fill="#92d2c8"/><rect x="262.72" y="421.10" width="1.3" height="9.00" fill="#92d2c8"/><rect x="265.25" y="418.20" width="1.3" height="11.90" fill="#f7a1a6"/><rect x="267.77" y="417.00" width="1.3" height="13.10" fill="#92d2c8"/><rect x="270.29" y="420.10" width="1.3" height="10.00" fill="#f7a1a6"/><rect x="272.82" y="420.10" width="1.3" height="10.00" fill="#92d2c8"/><rect x="275.34" y="424.00" width="1.3" height="6.10" fill="#92d2c8"/><rect x="277.86" y="426.40" width="1.3" height="3.70" fill="#f7a1a6"/><rect x="280.39" y="425.10" width="1.3" height="5.00" fill="#92d2c8"/><rect x="282.91" y="426.10" width="1.3" height="4.00" fill="#92d2c8"/><rect x="285.44" y="415.10" width="1.3" height="15.00" fill="#92d2c8"/><rect x="287.96" y="409.90" width="1.3" height="20.20" fill="#92d2c8"/><rect x="290.48" y="417.00" width="1.3" height="13.10" fill="#92d2c8"/><rect x="293.01" y="421.10" width="1.3" height="9.00" fill="#92d2c8"/><rect x="295.53" y="417.00" width="1.3" height="13.10" fill="#92d2c8"/><rect x="298.05" y="425.10" width="1.3" height="5.00" fill="#f7a1a6"/><rect x="300.58" y="424.30" width="1.3" height="5.80" fill="#f7a1a6"/><rect x="303.10" y="419.90" width="1.3" height="10.20" fill="#92d2c8"/><rect x="305.62" y="421.90" width="1.3" height="8.20" fill="#f7a1a6"/><rect x="308.15" y="421.90" width="1.3" height="8.20" fill="#f7a1a6"/><rect x="310.67" y="419.90" width="1.3" height="10.20" fill="#92d2c8"/><rect x="313.19" y="423.20" width="1.3" height="6.90" fill="#92d2c8"/><rect x="315.72" y="425.10" width="1.3" height="5.00" fill="#f7a1a6"/><rect x="318.24" y="424.30" width="1.3" height="5.80" fill="#f7a1a6"/><rect x="320.76" y="421.90" width="1.3" height="8.20" fill="#92d2c8"/><rect x="323.29" y="422.20" width="1.3" height="7.90" fill="#92d2c8"/><rect x="325.81" y="422.20" width="1.3" height="7.90" fill="#92d2c8"/><rect x="328.33" y="414.00" width="1.3" height="16.10" fill="#92d2c8"/><rect x="330.86" y="417.00" width="1.3" height="13.10" fill="#f7a1a6"/><rect x="333.38" y="422.20" width="1.3" height="7.90" fill="#92d2c8"/><rect x="335.91" y="421.90" width="1.3" height="8.20" fill="#f7a1a6"/><rect x="338.43" y="415.90" width="1.3" height="14.20" fill="#f7a1a6"/><rect x="340.95" y="420.10" width="1.3" height="10.00" fill="#92d2c8"/><rect x="343.48" y="422.20" width="1.3" height="7.90" fill="#f7a1a6"/><rect x="346.00" y="421.90" width="1.3" height="8.20" fill="#92d2c8"/><rect x="348.52" y="422.20" width="1.3" height="7.90" fill="#f7a1a6"/><rect x="351.05" y="424.30" width="1.3" height="5.80" fill="#f7a1a6"/><rect x="353.57" y="419.90" width="1.3" height="10.20" fill="#92d2c8"/><rect x="356.09" y="415.90" width="1.3" height="14.20" fill="#f7a1a6"/><rect x="358.62" y="419.00" width="1.3" height="11.10" fill="#92d2c8"/><rect x="361.14" y="409.00" width="1.3" height="21.10" fill="#92d2c8"/><rect x="363.66" y="415.90" width="1.3" height="14.20" fill="#92d2c8"/><rect x="366.19" y="415.10" width="1.3" height="15.00" fill="#f7a1a6"/><rect x="368.71" y="422.20" width="1.3" height="7.90" fill="#92d2c8"/><rect x="371.23" y="421.90" width="1.3" height="8.20" fill="#92d2c8"/><rect x="373.76" y="423.00" width="1.3" height="7.10" fill="#92d2c8"/><rect x="376.28" y="420.10" width="1.3" height="10.00" fill="#f7a1a6"/><rect x="378.80" y="422.20" width="1.3" height="7.90" fill="#f7a1a6"/><rect x="381.33" y="420.10" width="1.3" height="10.00" fill="#f7a1a6"/><rect x="383.85" y="419.00" width="1.3" height="11.10" fill="#f7a1a6"/><rect x="386.38" y="424.30" width="1.3" height="5.80" fill="#92d2c8"/><rect x="388.90" y="425.10" width="1.3" height="5.00" fill="#92d2c8"/><rect x="391.42" y="424.00" width="1.3" height="6.10" fill="#92d2c8"/><rect x="393.95" y="424.00" width="1.3" height="6.10" fill="#f7a1a6"/><rect x="396.47" y="423.00" width="1.3" height="7.10" fill="#f7a1a6"/><rect x="398.99" y="419.90" width="1.3" height="10.20" fill="#f7a1a6"/><rect x="401.52" y="422.20" width="1.3" height="7.90" fill="#92d2c8"/><rect x="404.04" y="426.10" width="1.3" height="4.00" fill="#92d2c8"/><rect x="406.56" y="426.10" width="1.3" height="4.00" fill="#92d2c8"/><rect x="409.09" y="420.10" width="1.3" height="10.00" fill="#92d2c8"/><rect x="411.61" y="422.20" width="1.3" height="7.90" fill="#92d2c8"/><rect x="414.13" y="424.00" width="1.3" height="6.10" fill="#f7a1a6"/><rect x="416.66" y="421.90" width="1.3" height="8.20" fill="#f7a1a6"/><rect x="419.18" y="418.00" width="1.3" height="12.10" fill="#92d2c8"/><rect x="421.70" y="426.10" width="1.3" height="4.00" fill="#f7a1a6"/><rect x="424.23" y="426.40" width="1.3" height="3.70" fill="#92d2c8"/><rect x="426.75" y="423.20" width="1.3" height="6.90" fill="#92d2c8"/><rect x="429.27" y="421.90" width="1.3" height="8.20" fill="#f7a1a6"/><rect x="431.80" y="423.20" width="1.3" height="6.90" fill="#92d2c8"/><rect x="434.32" y="426.40" width="1.3" height="3.70" fill="#f7a1a6"/><rect x="436.84" y="422.20" width="1.3" height="7.90" fill="#f7a1a6"/><rect x="439.37" y="424.30" width="1.3" height="5.80" fill="#f7a1a6"/><rect x="441.89" y="417.00" width="1.3" height="13.10" fill="#f7a1a6"/><rect x="444.42" y="417.00" width="1.3" height="13.10" fill="#92d2c8"/><rect x="446.94" y="423.20" width="1.3" height="6.90" fill="#92d2c8"/><rect x="449.46" y="422.20" width="1.3" height="7.90" fill="#92d2c8"/><rect x="451.99" y="425.10" width="1.3" height="5.00" fill="#f7a1a6"/><rect x="454.51" y="424.30" width="1.3" height="5.80" fill="#92d2c8"/><rect x="457.03" y="428.40" width="1.3" height="1.70" fill="#92d2c8"/><rect x="459.56" y="426.40" width="1.3" height="3.70" fill="#92d2c8"/><rect x="462.08" y="425.10" width="1.3" height="5.00" fill="#f7a1a6"/><rect x="464.60" y="425.10" width="1.3" height="5.00" fill="#f7a1a6"/><rect x="467.13" y="421.90" width="1.3" height="8.20" fill="#92d2c8"/><rect x="469.65" y="424.00" width="1.3" height="6.10" fill="#92d2c8"/><rect x="472.17" y="424.30" width="1.3" height="5.80" fill="#f7a1a6"/><rect x="474.70" y="428.20" width="1.3" height="1.90" fill="#92d2c8"/><rect x="477.22" y="426.40" width="1.3" height="3.70" fill="#92d2c8"/><rect x="479.74" y="425.10" width="1.3" height="5.00" fill="#f7a1a6"/><rect x="482.27" y="426.10" width="1.3" height="4.00" fill="#92d2c8"/><rect x="484.79" y="421.90" width="1.3" height="8.20" fill="#92d2c8"/><rect x="487.31" y="418.20" width="1.3" height="11.90" fill="#92d2c8"/><rect x="489.84" y="418.00" width="1.3" height="12.10" fill="#92d2c8"/><rect x="492.36" y="426.10" width="1.3" height="4.00" fill="#f7a1a6"/><rect x="494.89" y="425.10" width="1.3" height="5.00" fill="#92d2c8"/><rect x="497.41" y="417.00" width="1.3" height="13.10" fill="#92d2c8"/><rect x="499.93" y="415.10" width="1.3" height="15.00" fill="#f7a1a6"/><rect x="502.46" y="422.20" width="1.3" height="7.90" fill="#92d2c8"/><rect x="504.98" y="422.20" width="1.3" height="7.90" fill="#92d2c8"/><rect x="507.50" y="420.10" width="1.3" height="10.00" fill="#f7a1a6"/><rect x="510.03" y="426.40" width="1.3" height="3.70" fill="#f7a1a6"/><rect x="512.55" y="424.00" width="1.3" height="6.10" fill="#f7a1a6"/><rect x="515.07" y="422.20" width="1.3" height="7.90" fill="#92d2c8"/><rect x="517.60" y="420.30" width="1.3" height="9.80" fill="#92d2c8"/><rect x="520.12" y="423.20" width="1.3" height="6.90" fill="#f7a1a6"/><rect x="522.64" y="422.20" width="1.3" height="7.90" fill="#f7a1a6"/><rect x="525.17" y="412.20" width="1.3" height="17.90" fill="#f7a1a6"/><rect x="527.69" y="426.40" width="1.3" height="3.70" fill="#92d2c8"/><rect x="530.21" y="426.10" width="1.3" height="4.00" fill="#92d2c8"/><rect x="532.74" y="423.20" width="1.3" height="6.90" fill="#f7a1a6"/><rect x="535.26" y="423.20" width="1.3" height="6.90" fill="#f7a1a6"/><rect x="537.78" y="422.20" width="1.3" height="7.90" fill="#f7a1a6"/><rect x="540.31" y="421.90" width="1.3" height="8.20" fill="#f7a1a6"/><rect x="542.83" y="418.20" width="1.3" height="11.90" fill="#f7a1a6"/><rect x="545.36" y="424.30" width="1.3" height="5.80" fill="#f7a1a6"/><rect x="547.88" y="426.40" width="1.3" height="3.70" fill="#92d2c8"/><rect x="550.40" y="425.10" width="1.3" height="5.00" fill="#92d2c8"/><rect x="552.93" y="424.30" width="1.3" height="5.80" fill="#f7a1a6"/><rect x="555.45" y="425.10" width="1.3" height="5.00" fill="#92d2c8"/><rect x="557.97" y="424.00" width="1.3" height="6.10" fill="#92d2c8"/><rect x="560.50" y="425.10" width="1.3" height="5.00" fill="#f7a1a6"/><rect x="563.02" y="425.10" width="1.3" height="5.00" fill="#f7a1a6"/><rect x="565.54" y="423.20" width="1.3" height="6.90" fill="#92d2c8"/><rect x="568.07" y="418.00" width="1.3" height="12.10" fill="#f7a1a6"/><rect x="570.59" y="422.20" width="1.3" height="7.90" fill="#92d2c8"/><rect x="573.11" y="419.00" width="1.3" height="11.10" fill="#92d2c8"/><rect x="575.64" y="417.00" width="1.3" height="13.10" fill="#f7a1a6"/><rect x="578.16" y="424.00" width="1.3" height="6.10" fill="#f7a1a6"/><rect x="580.68" y="426.40" width="1.3" height="3.70" fill="#92d2c8"/><rect x="583.21" y="427.20" width="1.3" height="2.90" fill="#92d2c8"/><rect x="585.73" y="421.90" width="1.3" height="8.20" fill="#f7a1a6"/><rect x="588.25" y="421.90" width="1.3" height="8.20" fill="#f7a1a6"/><rect x="590.78" y="422.20" width="1.3" height="7.90" fill="#92d2c8"/><rect x="593.30" y="424.30" width="1.3" height="5.80" fill="#f7a1a6"/><rect x="595.83" y="419.00" width="1.3" height="11.10" fill="#92d2c8"/><rect x="598.35" y="424.30" width="1.3" height="5.80" fill="#f7a1a6"/><rect x="600.87" y="420.10" width="1.3" height="10.00" fill="#f7a1a6"/><rect x="603.40" y="418.20" width="1.3" height="11.90" fill="#f7a1a6"/><rect x="605.92" y="421.10" width="1.3" height="9.00" fill="#92d2c8"/><rect x="608.44" y="424.00" width="1.3" height="6.10" fill="#f7a1a6"/><rect x="610.97" y="424.30" width="1.3" height="5.80" fill="#92d2c8"/><rect x="613.49" y="419.90" width="1.3" height="10.20" fill="#f7a1a6"/><rect x="616.01" y="425.10" width="1.3" height="5.00" fill="#92d2c8"/><rect x="618.54" y="425.10" width="1.3" height="5.00" fill="#f7a1a6"/><rect x="621.06" y="422.20" width="1.3" height="7.90" fill="#92d2c8"/><rect x="623.58" y="421.10" width="1.3" height="9.00" fill="#92d2c8"/><rect x="626.11" y="424.30" width="1.3" height="5.80" fill="#92d2c8"/><rect x="628.63" y="424.30" width="1.3" height="5.80" fill="#f7a1a6"/><rect x="631.15" y="419.90" width="1.3" height="10.20" fill="#f7a1a6"/><rect x="633.68" y="427.20" width="1.3" height="2.90" fill="#f7a1a6"/><rect x="636.20" y="427.20" width="1.3" height="2.90" fill="#92d2c8"/><rect x="638.73" y="424.30" width="1.3" height="5.80" fill="#92d2c8"/><rect x="641.25" y="422.20" width="1.3" height="7.90" fill="#f7a1a6"/><rect x="643.77" y="421.90" width="1.3" height="8.20" fill="#92d2c8"/><rect x="646.30" y="424.00" width="1.3" height="6.10" fill="#92d2c8"/><rect x="648.82" y="422.20" width="1.3" height="7.90" fill="#92d2c8"/><rect x="651.34" y="426.10" width="1.3" height="4.00" fill="#f7a1a6"/><rect x="653.87" y="426.40" width="1.3" height="3.70" fill="#f7a1a6"/><rect x="656.39" y="424.00" width="1.3" height="6.10" fill="#92d2c8"/><rect x="658.91" y="424.30" width="1.3" height="5.80" fill="#92d2c8"/><rect x="661.44" y="422.20" width="1.3" height="7.90" fill="#f7a1a6"/><rect x="663.96" y="424.30" width="1.3" height="5.80" fill="#92d2c8"/><rect x="666.48" y="426.10" width="1.3" height="4.00" fill="#f7a1a6"/><rect x="669.01" y="428.20" width="1.3" height="1.90" fill="#92d2c8"/><rect x="671.53" y="428.20" width="1.3" height="1.90" fill="#f7a1a6"/><rect x="674.05" y="420.10" width="1.3" height="10.00" fill="#f7a1a6"/><rect x="676.58" y="424.30" width="1.3" height="5.80" fill="#f7a1a6"/><rect x="679.10" y="424.00" width="1.3" height="6.10" fill="#92d2c8"/><rect x="681.62" y="420.10" width="1.3" height="10.00" fill="#f7a1a6"/><rect x="684.15" y="423.20" width="1.3" height="6.90" fill="#92d2c8"/><rect x="686.67" y="427.20" width="1.3" height="2.90" fill="#f7a1a6"/><rect x="689.19" y="426.40" width="1.3" height="3.70" fill="#92d2c8"/><rect x="691.72" y="422.20" width="1.3" height="7.90" fill="#92d2c8"/><rect x="694.24" y="423.20" width="1.3" height="6.90" fill="#f7a1a6"/><rect x="696.77" y="420.10" width="1.3" height="10.00" fill="#92d2c8"/><rect x="699.29" y="421.10" width="1.3" height="9.00" fill="#92d2c8"/><rect x="701.81" y="419.00" width="1.3" height="11.10" fill="#92d2c8"/><rect x="704.34" y="426.10" width="1.3" height="4.00" fill="#92d2c8"/><rect x="706.86" y="419.90" width="1.3" height="10.20" fill="#92d2c8"/><rect x="709.38" y="421.10" width="1.3" height="9.00" fill="#92d2c8"/><rect x="711.91" y="419.90" width="1.3" height="10.20" fill="#f7a1a6"/><rect x="714.43" y="422.00" width="1.3" height="8.10" fill="#92d2c8"/><rect x="716.95" y="419.90" width="1.3" height="10.20" fill="#f7a1a6"/><rect x="719.48" y="401.10" width="1.3" height="29.00" fill="#f7a1a6"/><rect x="722.00" y="414.00" width="1.3" height="16.10" fill="#f7a1a6"/><rect x="724.52" y="415.10" width="1.3" height="15.00" fill="#92d2c8"/><rect x="727.05" y="419.90" width="1.3" height="10.20" fill="#92d2c8"/><rect x="729.57" y="415.10" width="1.3" height="15.00" fill="#f7a1a6"/><rect x="732.09" y="419.00" width="1.3" height="11.10" fill="#f7a1a6"/><rect x="734.62" y="416.20" width="1.3" height="13.90" fill="#f7a1a6"/><rect x="737.14" y="412.20" width="1.3" height="17.90" fill="#f7a1a6"/><rect x="739.66" y="424.30" width="1.3" height="5.80" fill="#92d2c8"/><rect x="742.19" y="422.20" width="1.3" height="7.90" fill="#92d2c8"/><rect x="744.71" y="421.10" width="1.3" height="9.00" fill="#92d2c8"/><rect x="747.24" y="413.00" width="1.3" height="17.10" fill="#f7a1a6"/><rect x="749.76" y="417.00" width="1.3" height="13.10" fill="#f7a1a6"/><rect x="752.28" y="421.90" width="1.3" height="8.20" fill="#92d2c8"/><rect x="754.81" y="423.20" width="1.3" height="6.90" fill="#92d2c8"/><rect x="757.33" y="426.40" width="1.3" height="3.70" fill="#92d2c8"/><rect x="759.85" y="424.00" width="1.3" height="6.10" fill="#92d2c8"/><rect x="762.38" y="419.90" width="1.3" height="10.20" fill="#f7a1a6"/><rect x="764.90" y="422.20" width="1.3" height="7.90" fill="#f7a1a6"/><rect x="767.42" y="429.10" width="1.3" height="1.00" fill="#f7a1a6"/></g>
<line x1="5.5" y1="471.5" x2="1134" y2="471.5" stroke="#b0b3bb" stroke-width="1" stroke-dasharray="4 4"/>
<g><rect x="5.18" y="471.50" width="1.6" height="7.76" fill="#FFCDD2"/><rect x="7.70" y="471.50" width="1.6" height="6.46" fill="#FFCDD2"/><rect x="10.22" y="471.50" width="1.6" height="4.13" fill="#FFCDD2"/><rect x="12.75" y="471.50" width="1.6" height="1.89" fill="#FFCDD2"/><rect x="15.27" y="471.50" width="1.6" height="0.32" fill="#FFCDD2"/><rect x="17.79" y="470.77" width="1.6" height="0.73" fill="#26A69A"/><rect x="20.32" y="468.28" width="1.6" height="3.22" fill="#26A69A"/><rect x="22.84" y="469.45" width="1.6" height="2.05" fill="#B2DFDB"/><rect x="25.36" y="471.24" width="1.6" height="0.26" fill="#B2DFDB"/><rect x="27.89" y="471.50" width="1.6" height="2.15" fill="#FF5252"/><rect x="30.41" y="471.50" width="1.6" height="2.45" fill="#FF5252"/><rect x="32.94" y="471.50" width="1.6" height="2.58" fill="#FF5252"/><rect x="35.46" y="471.50" width="1.6" height="2.55" fill="#FFCDD2"/><rect x="37.98" y="471.50" width="1.6" height="2.37" fill="#FFCDD2"/><rect x="40.51" y="471.50" width="1.6" height="1.11" fill="#FFCDD2"/><rect x="43.03" y="469.76" width="1.6" height="1.74" fill="#26A69A"/><rect x="45.55" y="468.31" width="1.6" height="3.19" fill="#26A69A"/><rect x="48.08" y="465.52" width="1.6" height="5.98" fill="#26A69A"/><rect x="50.60" y="463.85" width="1.6" height="7.65" fill="#26A69A"/><rect x="53.12" y="464.83" width="1.6" height="6.67" fill="#B2DFDB"/><rect x="55.65" y="465.36" width="1.6" height="6.14" fill="#B2DFDB"/><rect x="58.17" y="464.14" width="1.6" height="7.36" fill="#26A69A"/><rect x="60.69" y="465.04" width="1.6" height="6.46" fill="#B2DFDB"/><rect x="63.22" y="465.92" width="1.6" height="5.58" fill="#B2DFDB"/><rect x="65.74" y="466.38" width="1.6" height="5.12" fill="#B2DFDB"/><rect x="68.26" y="467.07" width="1.6" height="4.43" fill="#B2DFDB"/><rect x="70.79" y="468.94" width="1.6" height="2.56" fill="#B2DFDB"/><rect x="73.31" y="470.64" width="1.6" height="0.86" fill="#B2DFDB"/><rect x="75.83" y="471.50" width="1.6" height="0.74" fill="#FF5252"/><rect x="78.36" y="471.50" width="1.6" height="0.64" fill="#FFCDD2"/><rect x="80.88" y="471.50" width="1.6" height="0.16" fill="#FFCDD2"/><rect x="83.41" y="471.50" width="1.6" height="1.12" fill="#FF5252"/><rect x="85.93" y="471.50" width="1.6" height="2.67" fill="#FF5252"/><rect x="88.45" y="471.50" width="1.6" height="5.07" fill="#FF5252"/><rect x="90.98" y="471.50" width="1.6" height="4.61" fill="#FFCDD2"/><rect x="93.50" y="471.50" width="1.6" height="5.94" fill="#FF5252"/><rect x="96.02" y="471.50" width="1.6" height="7.11" fill="#FF5252"/><rect x="98.55" y="471.50" width="1.6" height="7.56" fill="#FF5252"/><rect x="101.07" y="471.50" width="1.6" height="7.51" fill="#FFCDD2"/><rect x="103.59" y="471.50" width="1.6" height="7.14" fill="#FFCDD2"/><rect x="106.12" y="471.50" width="1.6" height="6.54" fill="#FFCDD2"/><rect x="108.64" y="471.50" width="1.6" height="5.33" fill="#FFCDD2"/><rect x="111.16" y="471.50" width="1.6" height="5.09" fill="#FFCDD2"/><rect x="113.69" y="471.50" width="1.6" height="3.61" fill="#FFCDD2"/><rect x="116.21" y="471.50" width="1.6" height="3.08" fill="#FFCDD2"/><rect x="118.73" y="471.50" width="1.6" height="2.09" fill="#FFCDD2"/><rect x="121.26" y="471.50" width="1.6" height="1.28" fill="#FFCDD2"/><rect x="123.78" y="471.50" width="1.6" height="1.38" fill="#FF5252"/><rect x="126.30" y="471.50" width="1.6" height="1.48" fill="#FF5252"/><rect x="128.83" y="471.50" width="1.6" height="1.48" fill="#FF5252"/><rect x="131.35" y="471.50" width="1.6" height="0.84" fill="#FFCDD2"/><rect x="133.88" y="470.98" width="1.6" height="0.52" fill="#26A69A"/><rect x="136.40" y="471.19" width="1.6" height="0.31" fill="#B2DFDB"/><rect x="138.92" y="471.06" width="1.6" height="0.44" fill="#26A69A"/><rect x="141.45" y="471.08" width="1.6" height="0.42" fill="#B2DFDB"/><rect x="143.97" y="471.50" width="1.6" height="1.91" fill="#FF5252"/><rect x="146.49" y="471.50" width="1.6" height="4.63" fill="#FF5252"/><rect x="149.02" y="471.50" width="1.6" height="8.23" fill="#FF5252"/><rect x="151.54" y="471.50" width="1.6" height="9.72" fill="#FF5252"/><rect x="154.06" y="471.50" width="1.6" height="10.21" fill="#FF5252"/><rect x="156.59" y="471.50" width="1.6" height="8.99" fill="#FFCDD2"/><rect x="159.11" y="471.50" width="1.6" height="3.51" fill="#FFCDD2"/><rect x="161.63" y="471.50" width="1.6" height="3.73" fill="#FF5252"/><rect x="164.16" y="471.50" width="1.6" height="2.97" fill="#FFCDD2"/><rect x="166.68" y="471.50" width="1.6" height="0.49" fill="#FFCDD2"/><rect x="169.20" y="470.57" width="1.6" height="0.93" fill="#26A69A"/><rect x="171.73" y="471.10" width="1.6" height="0.40" fill="#B2DFDB"/><rect x="174.25" y="471.50" width="1.6" height="0.06" fill="#FF5252"/><rect x="176.77" y="471.50" width="1.6" height="2.89" fill="#FF5252"/><rect x="179.30" y="471.50" width="1.6" height="5.40" fill="#FF5252"/><rect x="181.82" y="471.50" width="1.6" height="4.32" fill="#FFCDD2"/><rect x="184.34" y="471.50" width="1.6" height="2.84" fill="#FFCDD2"/><rect x="186.87" y="471.50" width="1.6" height="2.82" fill="#FFCDD2"/><rect x="189.39" y="471.50" width="1.6" height="1.01" fill="#FFCDD2"/><rect x="191.92" y="470.92" width="1.6" height="0.58" fill="#26A69A"/><rect x="194.44" y="470.60" width="1.6" height="0.90" fill="#26A69A"/><rect x="196.96" y="469.52" width="1.6" height="1.98" fill="#26A69A"/><rect x="199.49" y="469.37" width="1.6" height="2.13" fill="#26A69A"/><rect x="202.01" y="467.11" width="1.6" height="4.39" fill="#26A69A"/><rect x="204.53" y="467.06" width="1.6" height="4.44" fill="#26A69A"/><rect x="207.06" y="467.13" width="1.6" height="4.37" fill="#B2DFDB"/><rect x="209.58" y="467.33" width="1.6" height="4.17" fill="#B2DFDB"/><rect x="212.10" y="466.39" width="1.6" height="5.11" fill="#26A69A"/><rect x="214.63" y="465.19" width="1.6" height="6.31" fill="#26A69A"/><rect x="217.15" y="464.67" width="1.6" height="6.83" fill="#26A69A"/><rect x="219.67" y="464.81" width="1.6" height="6.69" fill="#B2DFDB"/><rect x="222.20" y="464.98" width="1.6" height="6.52" fill="#B2DFDB"/><rect x="224.72" y="466.72" width="1.6" height="4.78" fill="#B2DFDB"/><rect x="227.24" y="468.85" width="1.6" height="2.65" fill="#B2DFDB"/><rect x="229.77" y="470.37" width="1.6" height="1.13" fill="#B2DFDB"/><rect x="232.29" y="471.22" width="1.6" height="0.28" fill="#B2DFDB"/><rect x="234.81" y="470.39" width="1.6" height="1.11" fill="#26A69A"/><rect x="237.34" y="471.16" width="1.6" height="0.34" fill="#B2DFDB"/><rect x="239.86" y="471.24" width="1.6" height="0.26" fill="#B2DFDB"/><rect x="242.39" y="470.88" width="1.6" height="0.62" fill="#26A69A"/><rect x="244.91" y="470.79" width="1.6" height="0.71" fill="#26A69A"/><rect x="247.43" y="471.50" width="1.6" height="1.74" fill="#FF5252"/><rect x="249.96" y="471.50" width="1.6" height="2.74" fill="#FF5252"/><rect x="252.48" y="471.50" width="1.6" height="4.55" fill="#FF5252"/><rect x="255.00" y="471.50" width="1.6" height="2.22" fill="#FFCDD2"/><rect x="257.53" y="471.50" width="1.6" height="2.04" fill="#FFCDD2"/><rect x="260.05" y="471.32" width="1.6" height="0.18" fill="#26A69A"/><rect x="262.57" y="468.91" width="1.6" height="2.59" fill="#26A69A"/><rect x="265.10" y="468.19" width="1.6" height="3.31" fill="#26A69A"/><rect x="267.62" y="467.40" width="1.6" height="4.10" fill="#26A69A"/><rect x="270.14" y="467.52" width="1.6" height="3.98" fill="#B2DFDB"/><rect x="272.67" y="467.53" width="1.6" height="3.97" fill="#B2DFDB"/><rect x="275.19" y="467.23" width="1.6" height="4.27" fill="#26A69A"/><rect x="277.71" y="467.44" width="1.6" height="4.06" fill="#B2DFDB"/><rect x="280.24" y="467.45" width="1.6" height="4.05" fill="#B2DFDB"/><rect x="282.76" y="467.58" width="1.6" height="3.92" fill="#B2DFDB"/><rect x="285.28" y="466.67" width="1.6" height="4.83" fill="#26A69A"/><rect x="287.81" y="463.39" width="1.6" height="8.11" fill="#26A69A"/><rect x="290.33" y="461.64" width="1.6" height="9.86" fill="#26A69A"/><rect x="292.86" y="460.94" width="1.6" height="10.56" fill="#26A69A"/><rect x="295.38" y="460.78" width="1.6" height="10.72" fill="#26A69A"/><rect x="297.90" y="461.32" width="1.6" height="10.18" fill="#B2DFDB"/><rect x="300.43" y="462.72" width="1.6" height="8.78" fill="#B2DFDB"/><rect x="302.95" y="463.57" width="1.6" height="7.93" fill="#B2DFDB"/><rect x="305.47" y="465.00" width="1.6" height="6.50" fill="#B2DFDB"/><rect x="308.00" y="466.42" width="1.6" height="5.08" fill="#B2DFDB"/><rect x="310.52" y="466.60" width="1.6" height="4.90" fill="#B2DFDB"/><rect x="313.04" y="466.95" width="1.6" height="4.55" fill="#B2DFDB"/><rect x="315.57" y="468.10" width="1.6" height="3.40" fill="#B2DFDB"/><rect x="318.09" y="469.98" width="1.6" height="1.52" fill="#B2DFDB"/><rect x="320.61" y="471.20" width="1.6" height="0.30" fill="#B2DFDB"/><rect x="323.14" y="471.14" width="1.6" height="0.36" fill="#26A69A"/><rect x="325.66" y="471.21" width="1.6" height="0.29" fill="#B2DFDB"/><rect x="328.18" y="468.38" width="1.6" height="3.12" fill="#26A69A"/><rect x="330.71" y="467.10" width="1.6" height="4.40" fill="#26A69A"/><rect x="333.23" y="465.89" width="1.6" height="5.61" fill="#26A69A"/><rect x="335.75" y="465.94" width="1.6" height="5.56" fill="#B2DFDB"/><rect x="338.28" y="467.15" width="1.6" height="4.35" fill="#B2DFDB"/><rect x="340.80" y="467.71" width="1.6" height="3.79" fill="#B2DFDB"/><rect x="343.33" y="468.83" width="1.6" height="2.67" fill="#B2DFDB"/><rect x="345.85" y="469.83" width="1.6" height="1.67" fill="#B2DFDB"/><rect x="348.37" y="470.94" width="1.6" height="0.56" fill="#B2DFDB"/><rect x="350.90" y="471.50" width="1.6" height="0.62" fill="#FF5252"/><rect x="353.42" y="471.43" width="1.6" height="0.07" fill="#26A69A"/><rect x="355.94" y="471.50" width="1.6" height="0.20" fill="#FF5252"/><rect x="358.47" y="471.50" width="1.6" height="0.03" fill="#FFCDD2"/><rect x="360.99" y="470.25" width="1.6" height="1.25" fill="#26A69A"/><rect x="363.51" y="468.79" width="1.6" height="2.71" fill="#26A69A"/><rect x="366.04" y="470.48" width="1.6" height="1.02" fill="#B2DFDB"/><rect x="368.56" y="471.50" width="1.6" height="0.12" fill="#FF5252"/><rect x="371.08" y="471.50" width="1.6" height="0.49" fill="#FF5252"/><rect x="373.61" y="471.50" width="1.6" height="0.76" fill="#FF5252"/><rect x="376.13" y="471.50" width="1.6" height="1.40" fill="#FF5252"/><rect x="378.65" y="471.50" width="1.6" height="2.59" fill="#FF5252"/><rect x="381.18" y="471.50" width="1.6" height="4.54" fill="#FF5252"/><rect x="383.70" y="471.50" width="1.6" height="6.59" fill="#FF5252"/><rect x="386.22" y="471.50" width="1.6" height="7.46" fill="#FF5252"/><rect x="388.75" y="471.50" width="1.6" height="7.33" fill="#FFCDD2"/><rect x="391.27" y="471.50" width="1.6" height="6.96" fill="#FFCDD2"/><rect x="393.80" y="471.50" width="1.6" height="6.78" fill="#FFCDD2"/><rect x="396.32" y="471.50" width="1.6" height="6.85" fill="#FF5252"/><rect x="398.84" y="471.50" width="1.6" height="8.28" fill="#FF5252"/><rect x="401.37" y="471.50" width="1.6" height="7.50" fill="#FFCDD2"/><rect x="403.89" y="471.50" width="1.6" height="6.08" fill="#FFCDD2"/><rect x="406.41" y="471.50" width="1.6" height="4.90" fill="#FFCDD2"/><rect x="408.94" y="471.50" width="1.6" height="1.77" fill="#FFCDD2"/><rect x="411.46" y="471.31" width="1.6" height="0.19" fill="#26A69A"/><rect x="413.98" y="471.00" width="1.6" height="0.50" fill="#26A69A"/><rect x="416.51" y="471.50" width="1.6" height="0.90" fill="#FF5252"/><rect x="419.03" y="471.50" width="1.6" height="1.68" fill="#FF5252"/><rect x="421.55" y="471.50" width="1.6" height="2.45" fill="#FF5252"/><rect x="424.08" y="471.50" width="1.6" height="2.80" fill="#FF5252"/><rect x="426.60" y="471.50" width="1.6" height="2.35" fill="#FFCDD2"/><rect x="429.12" y="471.50" width="1.6" height="3.14" fill="#FF5252"/><rect x="431.65" y="471.50" width="1.6" height="3.37" fill="#FF5252"/><rect x="434.17" y="471.50" width="1.6" height="3.51" fill="#FF5252"/><rect x="436.69" y="471.50" width="1.6" height="4.14" fill="#FF5252"/><rect x="439.22" y="471.50" width="1.6" height="4.94" fill="#FF5252"/><rect x="441.74" y="471.50" width="1.6" height="5.80" fill="#FF5252"/><rect x="444.27" y="471.50" width="1.6" height="3.87" fill="#FFCDD2"/><rect x="446.79" y="471.50" width="1.6" height="2.09" fill="#FFCDD2"/><rect x="449.31" y="471.50" width="1.6" height="0.24" fill="#FFCDD2"/><rect x="451.84" y="470.77" width="1.6" height="0.73" fill="#26A69A"/><rect x="454.36" y="470.16" width="1.6" height="1.34" fill="#26A69A"/><rect x="456.88" y="469.72" width="1.6" height="1.78" fill="#26A69A"/><rect x="459.41" y="469.03" width="1.6" height="2.47" fill="#26A69A"/><rect x="461.93" y="469.35" width="1.6" height="2.15" fill="#B2DFDB"/><rect x="464.45" y="470.40" width="1.6" height="1.10" fill="#B2DFDB"/><rect x="466.98" y="469.57" width="1.6" height="1.93" fill="#26A69A"/><rect x="469.50" y="468.81" width="1.6" height="2.69" fill="#26A69A"/><rect x="472.02" y="469.31" width="1.6" height="2.19" fill="#B2DFDB"/><rect x="474.55" y="469.67" width="1.6" height="1.83" fill="#B2DFDB"/><rect x="477.07" y="469.54" width="1.6" height="1.96" fill="#26A69A"/><rect x="479.59" y="470.08" width="1.6" height="1.42" fill="#B2DFDB"/><rect x="482.12" y="470.21" width="1.6" height="1.29" fill="#B2DFDB"/><rect x="484.64" y="469.26" width="1.6" height="2.24" fill="#26A69A"/><rect x="487.16" y="466.48" width="1.6" height="5.02" fill="#26A69A"/><rect x="489.69" y="464.31" width="1.6" height="7.19" fill="#26A69A"/><rect x="492.21" y="463.46" width="1.6" height="8.04" fill="#26A69A"/><rect x="494.74" y="462.63" width="1.6" height="8.87" fill="#26A69A"/><rect x="497.26" y="462.32" width="1.6" height="9.18" fill="#26A69A"/><rect x="499.78" y="463.80" width="1.6" height="7.70" fill="#B2DFDB"/><rect x="502.31" y="464.85" width="1.6" height="6.65" fill="#B2DFDB"/><rect x="504.83" y="465.77" width="1.6" height="5.73" fill="#B2DFDB"/><rect x="507.35" y="467.47" width="1.6" height="4.03" fill="#B2DFDB"/><rect x="509.88" y="468.98" width="1.6" height="2.52" fill="#B2DFDB"/><rect x="512.40" y="470.56" width="1.6" height="0.94" fill="#B2DFDB"/><rect x="514.92" y="471.50" width="1.6" height="0.25" fill="#FF5252"/><rect x="517.45" y="471.41" width="1.6" height="0.09" fill="#26A69A"/><rect x="519.97" y="471.50" width="1.6" height="0.51" fill="#FF5252"/><rect x="522.49" y="471.50" width="1.6" height="1.27" fill="#FF5252"/><rect x="525.02" y="471.50" width="1.6" height="2.25" fill="#FF5252"/><rect x="527.54" y="471.50" width="1.6" height="2.79" fill="#FF5252"/><rect x="530.06" y="471.50" width="1.6" height="2.44" fill="#FFCDD2"/><rect x="532.59" y="471.50" width="1.6" height="2.95" fill="#FF5252"/><rect x="535.11" y="471.50" width="1.6" height="3.41" fill="#FF5252"/><rect x="537.63" y="471.50" width="1.6" height="3.72" fill="#FF5252"/><rect x="540.16" y="471.50" width="1.6" height="4.89" fill="#FF5252"/><rect x="542.68" y="471.50" width="1.6" height="6.75" fill="#FF5252"/><rect x="545.21" y="471.50" width="1.6" height="8.07" fill="#FF5252"/><rect x="547.73" y="471.50" width="1.6" height="7.77" fill="#FFCDD2"/><rect x="550.25" y="471.50" width="1.6" height="6.87" fill="#FFCDD2"/><rect x="552.78" y="471.50" width="1.6" height="6.50" fill="#FFCDD2"/><rect x="555.30" y="471.50" width="1.6" height="5.55" fill="#FFCDD2"/><rect x="557.82" y="471.50" width="1.6" height="3.49" fill="#FFCDD2"/><rect x="560.35" y="471.50" width="1.6" height="2.46" fill="#FFCDD2"/><rect x="562.87" y="471.50" width="1.6" height="1.84" fill="#FFCDD2"/><rect x="565.39" y="471.49" width="1.6" height="0.01" fill="#26A69A"/><rect x="567.92" y="470.68" width="1.6" height="0.82" fill="#26A69A"/><rect x="570.44" y="469.53" width="1.6" height="1.97" fill="#26A69A"/><rect x="572.96" y="467.39" width="1.6" height="4.11" fill="#26A69A"/><rect x="575.49" y="468.81" width="1.6" height="2.69" fill="#B2DFDB"/><rect x="578.01" y="470.38" width="1.6" height="1.12" fill="#B2DFDB"/><rect x="580.53" y="471.47" width="1.6" height="0.03" fill="#B2DFDB"/><rect x="583.06" y="471.50" width="1.6" height="0.71" fill="#FF5252"/><rect x="585.58" y="471.50" width="1.6" height="1.79" fill="#FF5252"/><rect x="588.11" y="471.50" width="1.6" height="4.10" fill="#FF5252"/><rect x="590.63" y="471.50" width="1.6" height="4.69" fill="#FF5252"/><rect x="593.15" y="471.50" width="1.6" height="5.74" fill="#FF5252"/><rect x="595.68" y="471.50" width="1.6" height="3.91" fill="#FFCDD2"/><rect x="598.20" y="471.50" width="1.6" height="3.33" fill="#FFCDD2"/><rect x="600.72" y="471.50" width="1.6" height="3.76" fill="#FF5252"/><rect x="603.25" y="471.50" width="1.6" height="5.53" fill="#FF5252"/><rect x="605.77" y="471.50" width="1.6" height="5.51" fill="#FFCDD2"/><rect x="608.29" y="471.50" width="1.6" height="5.44" fill="#FFCDD2"/><rect x="610.82" y="471.50" width="1.6" height="4.42" fill="#FFCDD2"/><rect x="613.34" y="471.50" width="1.6" height="5.60" fill="#FF5252"/><rect x="615.86" y="471.50" width="1.6" height="5.76" fill="#FF5252"/><rect x="618.39" y="471.50" width="1.6" height="5.78" fill="#FF5252"/><rect x="620.91" y="471.50" width="1.6" height="4.90" fill="#FFCDD2"/><rect x="623.43" y="471.50" width="1.6" height="3.01" fill="#FFCDD2"/><rect x="625.96" y="471.50" width="1.6" height="1.33" fill="#FFCDD2"/><rect x="628.48" y="471.50" width="1.6" height="0.59" fill="#FFCDD2"/><rect x="631.00" y="471.50" width="1.6" height="0.02" fill="#FFCDD2"/><rect x="633.53" y="471.29" width="1.6" height="0.21" fill="#26A69A"/><rect x="636.05" y="470.58" width="1.6" height="0.92" fill="#26A69A"/><rect x="638.58" y="469.62" width="1.6" height="1.88" fill="#26A69A"/><rect x="641.10" y="469.27" width="1.6" height="2.23" fill="#26A69A"/><rect x="643.62" y="467.87" width="1.6" height="3.63" fill="#26A69A"/><rect x="646.15" y="466.35" width="1.6" height="5.15" fill="#26A69A"/><rect x="648.67" y="465.31" width="1.6" height="6.19" fill="#26A69A"/><rect x="651.19" y="464.96" width="1.6" height="6.54" fill="#26A69A"/><rect x="653.72" y="465.38" width="1.6" height="6.12" fill="#B2DFDB"/><rect x="656.24" y="465.90" width="1.6" height="5.60" fill="#B2DFDB"/><rect x="658.76" y="465.78" width="1.6" height="5.72" fill="#26A69A"/><rect x="661.29" y="466.15" width="1.6" height="5.35" fill="#B2DFDB"/><rect x="663.81" y="466.34" width="1.6" height="5.16" fill="#B2DFDB"/><rect x="666.33" y="467.50" width="1.6" height="4.00" fill="#B2DFDB"/><rect x="668.86" y="468.44" width="1.6" height="3.06" fill="#B2DFDB"/><rect x="671.38" y="469.44" width="1.6" height="2.06" fill="#B2DFDB"/><rect x="673.90" y="471.50" width="1.6" height="0.01" fill="#FF5252"/><rect x="676.43" y="471.50" width="1.6" height="1.66" fill="#FF5252"/><rect x="678.95" y="471.50" width="1.6" height="2.00" fill="#FF5252"/><rect x="681.47" y="471.50" width="1.6" height="4.25" fill="#FF5252"/><rect x="684.00" y="471.50" width="1.6" height="5.17" fill="#FF5252"/><rect x="686.52" y="471.50" width="1.6" height="5.48" fill="#FF5252"/><rect x="689.04" y="471.50" width="1.6" height="4.13" fill="#FFCDD2"/><rect x="691.57" y="471.50" width="1.6" height="1.99" fill="#FFCDD2"/><rect x="694.09" y="471.50" width="1.6" height="0.65" fill="#FFCDD2"/><rect x="696.62" y="469.00" width="1.6" height="2.50" fill="#26A69A"/><rect x="699.14" y="466.18" width="1.6" height="5.32" fill="#26A69A"/><rect x="701.66" y="463.84" width="1.6" height="7.66" fill="#26A69A"/><rect x="704.19" y="462.71" width="1.6" height="8.79" fill="#26A69A"/><rect x="706.71" y="461.96" width="1.6" height="9.54" fill="#26A69A"/><rect x="709.23" y="461.46" width="1.6" height="10.04" fill="#26A69A"/><rect x="711.76" y="463.41" width="1.6" height="8.09" fill="#B2DFDB"/><rect x="714.28" y="464.18" width="1.6" height="7.32" fill="#B2DFDB"/><rect x="716.80" y="465.97" width="1.6" height="5.53" fill="#B2DFDB"/><rect x="719.33" y="471.50" width="1.6" height="0.22" fill="#FF5252"/><rect x="721.85" y="471.50" width="1.6" height="5.22" fill="#FF5252"/><rect x="724.37" y="471.50" width="1.6" height="6.05" fill="#FF5252"/><rect x="726.90" y="471.50" width="1.6" height="6.25" fill="#FF5252"/><rect x="729.42" y="471.50" width="1.6" height="7.20" fill="#FF5252"/><rect x="731.94" y="471.50" width="1.6" height="8.62" fill="#FF5252"/><rect x="734.47" y="471.50" width="1.6" height="10.39" fill="#FF5252"/><rect x="736.99" y="471.50" width="1.6" height="11.84" fill="#FF5252"/><rect x="739.51" y="471.50" width="1.6" height="11.77" fill="#FFCDD2"/><rect x="742.04" y="471.50" width="1.6" height="10.35" fill="#FFCDD2"/><rect x="744.56" y="471.50" width="1.6" height="7.91" fill="#FFCDD2"/><rect x="747.09" y="471.50" width="1.6" height="6.95" fill="#FFCDD2"/><rect x="749.61" y="471.50" width="1.6" height="6.30" fill="#FFCDD2"/><rect x="752.13" y="471.50" width="1.6" height="4.27" fill="#FFCDD2"/><rect x="754.66" y="471.50" width="1.6" height="2.20" fill="#FFCDD2"/><rect x="757.18" y="471.50" width="1.6" height="0.36" fill="#FFCDD2"/><rect x="759.70" y="469.13" width="1.6" height="2.37" fill="#26A69A"/><rect x="762.23" y="467.66" width="1.6" height="3.84" fill="#26A69A"/><rect x="764.75" y="467.44" width="1.6" height="4.06" fill="#26A69A"/><rect x="767.27" y="467.67" width="1.6" height="3.83" fill="#B2DFDB"/></g>
<polyline points="5.98,468.98 8.50,470.60 11.02,471.63 13.55,472.11 16.07,472.19 18.59,472.00 21.12,471.20 23.64,470.69 26.16,470.62 28.69,471.16 31.21,471.77 33.73,472.41 36.26,473.05 38.78,473.64 41.31,473.92 43.83,473.49 46.35,472.69 48.88,471.20 51.40,469.28 53.92,467.61 56.45,466.08 58.97,464.24 61.49,462.62 64.02,461.23 66.54,459.95 69.06,458.84 71.59,458.20 74.11,457.99 76.63,458.17 79.16,458.33 81.68,458.37 84.20,458.65 86.73,459.32 89.25,460.59 91.78,461.74 94.30,463.22 96.82,465.00 99.35,466.89 101.87,468.77 104.39,470.55 106.92,472.19 109.44,473.52 111.96,474.79 114.49,475.69 117.01,476.46 119.53,476.99 122.06,477.31 124.58,477.65 127.10,478.02 129.63,478.39 132.15,478.60 134.68,478.47 137.20,478.40 139.72,478.28 142.25,478.18 144.77,478.66 147.29,479.82 149.82,481.87 152.34,484.30 154.86,486.86 157.39,489.10 159.91,489.98 162.43,490.92 164.96,491.66 167.48,491.78 170.00,491.55 172.53,491.45 175.05,491.46 177.57,492.19 180.10,493.53 182.62,494.62 185.14,495.32 187.67,496.03 190.19,496.28 192.72,496.14 195.24,495.91 197.76,495.42 200.29,494.88 202.81,493.79 205.33,492.68 207.86,491.59 210.38,490.54 212.90,489.26 215.43,487.69 217.95,485.98 220.47,484.31 223.00,482.68 225.52,481.48 228.04,480.82 230.57,480.53 233.09,480.46 235.61,480.19 238.14,480.10 240.66,480.03 243.19,479.88 245.71,479.70 248.23,480.14 250.76,480.83 253.28,481.96 255.80,482.52 258.33,483.03 260.85,482.98 263.37,482.34 265.90,481.51 268.42,480.48 270.94,479.49 273.47,478.49 275.99,477.43 278.51,476.41 281.04,475.40 283.56,474.42 286.08,473.21 288.61,471.18 291.13,468.72 293.66,466.08 296.18,463.40 298.70,460.85 301.23,458.66 303.75,456.68 306.27,455.05 308.80,453.78 311.32,452.56 313.84,451.42 316.37,450.57 318.89,450.19 321.41,450.12 323.94,450.03 326.46,449.95 328.98,449.17 331.51,448.07 334.03,446.67 336.56,445.28 339.08,444.19 341.60,443.25 344.13,442.58 346.65,442.16 349.17,442.02 351.70,442.18 354.22,442.16 356.74,442.21 359.27,442.22 361.79,441.91 364.31,441.23 366.84,440.97 369.36,441.00 371.88,441.13 374.41,441.32 376.93,441.67 379.45,442.31 381.98,443.45 384.50,445.10 387.02,446.96 389.55,448.80 392.07,450.54 394.60,452.23 397.12,453.94 399.64,456.01 402.17,457.89 404.69,459.41 407.21,460.63 409.74,461.08 412.26,461.03 414.78,460.90 417.31,461.13 419.83,461.55 422.35,462.16 424.88,462.86 427.40,463.45 429.92,464.23 432.45,465.07 434.97,465.95 437.49,466.99 440.02,468.22 442.54,469.67 445.07,470.64 447.59,471.16 450.11,471.22 452.64,471.04 455.16,470.70 457.68,470.26 460.21,469.64 462.73,469.10 465.25,468.83 467.78,468.34 470.30,467.67 472.82,467.13 475.35,466.67 477.87,466.18 480.39,465.82 482.92,465.50 485.44,464.94 487.96,463.69 490.49,461.89 493.01,459.88 495.54,457.66 498.06,455.37 500.58,453.44 503.11,451.78 505.63,450.35 508.15,449.34 510.68,448.71 513.20,448.47 515.72,448.54 518.25,448.51 520.77,448.64 523.29,448.96 525.82,449.52 528.34,450.22 530.86,450.83 533.39,451.57 535.91,452.42 538.43,453.35 540.96,454.57 543.48,456.26 546.01,458.28 548.53,460.22 551.05,461.94 553.58,463.56 556.10,464.95 558.62,465.82 561.15,466.44 563.67,466.90 566.19,466.90 568.72,466.69 571.24,466.20 573.76,465.17 576.29,464.50 578.81,464.22 581.33,464.21 583.86,464.39 586.38,464.83 588.90,465.86 591.43,467.03 593.95,468.46 596.48,469.44 599.00,470.27 601.52,471.21 604.05,472.60 606.57,473.97 609.09,475.33 611.62,476.44 614.14,477.84 616.66,479.28 619.19,480.72 621.71,481.95 624.23,482.70 626.76,483.03 629.28,483.18 631.80,483.19 634.33,483.13 636.85,482.90 639.38,482.43 641.90,481.88 644.42,480.97 646.95,479.68 649.47,478.13 651.99,476.50 654.52,474.97 657.04,473.57 659.56,472.14 662.09,470.80 664.61,469.51 667.13,468.51 669.66,467.75 672.18,467.23 674.70,467.24 677.23,467.65 679.75,468.15 682.27,469.21 684.80,470.51 687.32,471.88 689.84,472.91 692.37,473.41 694.89,473.57 697.42,472.94 699.94,471.61 702.46,469.70 704.99,467.50 707.51,465.12 710.03,462.61 712.56,460.58 715.08,458.75 717.60,457.37 720.13,457.43 722.65,458.73 725.17,460.25 727.70,461.81 730.22,463.61 732.74,465.77 735.27,468.36 737.79,471.33 740.31,474.27 742.84,476.86 745.36,478.83 747.89,480.57 750.41,482.15 752.93,483.21 755.46,483.76 757.98,483.85 760.50,483.26 763.03,482.30 765.55,481.29 768.07,480.33" fill="none" stroke="#FF6D00" stroke-width="1"/>
<polyline points="5.98,476.74 8.50,477.06 11.02,475.76 13.55,474.00 16.07,472.51 18.59,471.28 21.12,467.98 23.64,468.64 26.16,470.36 28.69,473.31 31.21,474.22 33.73,474.99 36.26,475.60 38.78,476.02 41.31,475.03 43.83,471.75 46.35,469.50 48.88,465.22 51.40,461.63 53.92,460.94 56.45,459.94 58.97,456.88 61.49,456.16 64.02,455.64 66.54,454.82 69.06,454.42 71.59,455.65 74.11,457.12 76.63,458.91 79.16,458.97 81.68,458.53 84.20,459.77 86.73,461.99 89.25,465.66 91.78,466.35 94.30,469.16 96.82,472.11 99.35,474.45 101.87,476.28 104.39,477.69 106.92,478.72 109.44,478.84 111.96,479.88 114.49,479.30 117.01,479.54 119.53,479.08 122.06,478.59 124.58,479.03 127.10,479.50 129.63,479.87 132.15,479.44 134.68,477.96 137.20,478.09 139.72,477.84 142.25,477.76 144.77,480.57 147.29,484.45 149.82,490.10 152.34,494.03 154.86,497.07 157.39,498.10 159.91,493.49 162.43,494.65 164.96,494.62 167.48,492.27 170.00,490.62 172.53,491.05 175.05,491.52 177.57,495.08 180.10,498.93 182.62,498.94 185.14,498.16 187.67,498.85 190.19,497.29 192.72,495.55 195.24,495.02 197.76,493.44 200.29,492.75 202.81,489.40 205.33,488.24 207.86,487.22 210.38,486.37 212.90,484.15 215.43,481.37 217.95,479.15 220.47,477.62 223.00,476.15 225.52,476.69 228.04,478.17 230.57,479.40 233.09,480.18 235.61,479.07 238.14,479.76 240.66,479.77 243.19,479.26 245.71,479.00 248.23,481.88 250.76,483.57 253.28,486.52 255.80,484.74 258.33,485.07 260.85,482.80 263.37,479.74 265.90,478.19 268.42,476.39 270.94,475.50 273.47,474.53 275.99,473.16 278.51,472.36 281.04,471.35 283.56,470.49 286.08,468.38 288.61,463.08 291.13,458.86 293.66,455.52 296.18,452.68 298.70,450.67 301.23,449.88 303.75,448.74 306.27,448.55 308.80,448.70 311.32,447.66 313.84,446.87 316.37,447.17 318.89,448.67 321.41,449.82 323.94,449.66 326.46,449.66 328.98,446.05 331.51,443.67 334.03,441.06 336.56,439.72 339.08,439.84 341.60,439.45 344.13,439.91 346.65,440.50 349.17,441.47 351.70,442.80 354.22,442.10 356.74,442.41 359.27,442.25 361.79,440.66 364.31,438.52 366.84,439.96 369.36,441.12 371.88,441.61 374.41,442.08 376.93,443.07 379.45,444.90 381.98,447.99 384.50,451.69 387.02,454.42 389.55,456.13 392.07,457.50 394.60,459.01 397.12,460.79 399.64,464.29 402.17,465.39 404.69,465.49 407.21,465.53 409.74,462.85 412.26,460.84 414.78,460.40 417.31,462.03 419.83,463.22 422.35,464.61 424.88,465.66 427.40,465.80 429.92,467.37 432.45,468.44 434.97,469.46 437.49,471.12 440.02,473.17 442.54,475.47 445.07,474.50 447.59,473.25 450.11,471.46 452.64,470.31 455.16,469.36 457.68,468.48 460.21,467.17 462.73,466.95 465.25,467.73 467.78,466.41 470.30,464.99 472.82,464.94 475.35,464.84 477.87,464.22 480.39,464.40 482.92,464.21 485.44,462.71 487.96,458.67 490.49,454.70 493.01,451.84 495.54,448.79 498.06,446.19 500.58,445.74 503.11,445.13 505.63,444.62 508.15,445.31 510.68,446.19 513.20,447.53 515.72,448.79 518.25,448.42 520.77,449.15 523.29,450.23 525.82,451.77 528.34,453.02 530.86,453.27 533.39,454.52 535.91,455.83 538.43,457.06 540.96,459.46 543.48,463.00 546.01,466.35 548.53,467.99 551.05,468.81 553.58,470.06 556.10,470.50 558.62,469.31 561.15,468.90 563.67,468.74 566.19,466.89 568.72,465.87 571.24,464.23 573.76,461.05 576.29,461.80 578.81,463.10 581.33,464.18 583.86,465.10 586.38,466.62 588.90,469.96 591.43,471.72 593.95,474.20 596.48,473.35 599.00,473.60 601.52,474.98 604.05,478.12 606.57,479.48 609.09,480.77 611.62,480.86 614.14,483.43 616.66,485.04 619.19,486.50 621.71,486.85 624.23,485.71 626.76,484.36 629.28,483.77 631.80,483.21 634.33,482.93 636.85,481.98 639.38,480.55 641.90,479.65 644.42,477.34 646.95,474.53 649.47,471.94 651.99,469.96 654.52,468.86 657.04,467.97 659.56,466.41 662.09,465.46 664.61,464.36 667.13,464.51 669.66,464.68 672.18,465.18 674.70,467.24 677.23,469.31 679.75,470.15 682.27,473.47 684.80,475.67 687.32,477.36 689.84,477.04 692.37,475.39 694.89,474.22 697.42,470.44 699.94,466.29 702.46,462.04 704.99,458.71 707.51,455.58 710.03,452.57 712.56,452.50 715.08,451.43 717.60,451.84 720.13,457.65 722.65,463.96 725.17,466.30 727.70,468.06 730.22,470.81 732.74,474.39 735.27,478.76 737.79,483.17 740.31,486.04 742.84,487.21 745.36,486.75 747.89,487.53 750.41,488.44 752.93,487.49 755.46,485.96 757.98,484.22 760.50,480.89 763.03,478.46 765.55,477.23 768.07,476.50" fill="none" stroke="#2962FF" stroke-width="1"/>
<text x="1141.5" y="181.36" font-size="10" fill="#131722" text-anchor="start" font-weight="normal">100,000.00</text>
<text x="1141.5" y="215.88" font-size="10" fill="#131722" text-anchor="start" font-weight="normal">90,000.00</text>
<text x="1141.5" y="250.4" font-size="10" fill="#131722" text-anchor="start" font-weight="normal">80,000.00</text>
<text x="1141.5" y="284.92" font-size="10" fill="#131722" text-anchor="start" font-weight="normal">70,000.00</text>
<clipPath id="rc"><rect x="1134" y="290.5" width="67" height="93.7"/></clipPath><g clip-path="url(#rc)">
<text x="1141.5" y="301" font-size="10" fill="#131722" text-anchor="start" font-weight="normal">80.00</text>
<text x="1141.5" y="329" font-size="10" fill="#131722" text-anchor="start" font-weight="normal">60.00</text>
<text x="1141.5" y="385" font-size="10" fill="#131722" text-anchor="start" font-weight="normal">20.00</text>
</g>
<text x="1141.5" y="443.9" font-size="10" fill="#131722" text-anchor="start" font-weight="normal">4,000.00</text>
<text x="1141.5" y="507.1" font-size="10" fill="#131722" text-anchor="start" font-weight="normal">−4,000.00</text>
<rect x="1134" y="66.40" width="61.70" height="13.60" fill="#2962FF" rx="1"/>
<text x="1141.5" y="76.8" font-size="10" fill="#fff" text-anchor="start" font-weight="normal">130,000.00</text>
<rect x="1134" y="80.60" width="61.70" height="13.60" fill="#4CAF50" rx="1"/>
<text x="1141.5" y="91" font-size="10" fill="#fff" text-anchor="start" font-weight="normal">126,199.63</text>
<rect x="1134" y="100.10" width="61.70" height="13.60" fill="#2962FF" rx="1"/>
<text x="1141.5" y="110.5" font-size="10" fill="#fff" text-anchor="start" font-weight="normal">120,000.00</text>
<rect x="1134" y="114.20" width="61.70" height="13.60" fill="#FF0000" rx="1"/>
<text x="1141.5" y="124.6" font-size="10" fill="#fff" text-anchor="start" font-weight="normal">113,308.78</text>
<rect x="1134" y="128.75" width="61.7" height="25.5" fill="#F23645" rx="1"/>
<text x="1141.5" y="138.8" font-size="10" fill="#fff" text-anchor="start" font-weight="normal">112,406.99</text>
<text x="1141.5" y="150.5" font-size="10" fill="#fff" text-anchor="start" font-weight="normal">20:52:27</text>
<rect x="1134" y="163.90" width="61.70" height="13.60" fill="#9C27B0" rx="1"/>
<text x="1141.5" y="174.3" font-size="10" fill="#fff" text-anchor="start" font-weight="normal">102,000.00</text>
<rect x="1134" y="222.50" width="55.70" height="13.60" fill="#F23645" rx="1"/>
<text x="1141.5" y="232.9" font-size="10" fill="#fff" text-anchor="start" font-weight="normal">85,000.00</text>
<rect x="1134" y="261.40" width="55.70" height="13.60" fill="#9C27B0" rx="1"/>
<text x="1141.5" y="271.8" font-size="10" fill="#fff" text-anchor="start" font-weight="normal">73,719.53</text>
<rect x="1134" y="333.60" width="36.30" height="13.60" fill="#7E57C2" rx="1"/>
<text x="1141.5" y="344" font-size="10" fill="#fff" text-anchor="start" font-weight="normal">49.40</text>
<rect x="1134" y="347.70" width="36.30" height="13.60" fill="#FDD835" rx="1"/>
<text x="1141.5" y="358.1" font-size="10" fill="#131722" text-anchor="start" font-weight="normal">44.35</text>
<rect x="1134" y="416.40" width="38.90" height="13.60" fill="#EF5350" rx="1"/>
<text x="1141.5" y="426.8" font-size="10" fill="#fff" text-anchor="start" font-weight="normal" textLength="26" lengthAdjust="spacingAndGlyphs">1.83 K</text>
<rect x="1134" y="460.30" width="41.50" height="13.60" fill="#B2DFDB" rx="1"/>
<text x="1141.5" y="470.7" font-size="10" fill="#131722" text-anchor="start" font-weight="normal">497.89</text>
<rect x="1134" y="474.20" width="46.60" height="13.60" fill="#2962FF" rx="1"/>
<text x="1141.5" y="484.6" font-size="10" fill="#fff" text-anchor="start" font-weight="normal">−636.63</text>
<rect x="1134" y="488.20" width="55.40" height="13.60" fill="#FF6D00" rx="1"/>
<text x="1141.5" y="498.6" font-size="10" fill="#fff" text-anchor="start" font-weight="normal">−1,134.52</text>
<rect x="1136.6" y="24.9" width="59" height="21.5" rx="4" fill="#fff" stroke="#eceef2"/>
<text x="1144.6" y="38.75" font-size="9.8" fill="#131722" text-anchor="start" font-weight="normal" textLength="22.9" lengthAdjust="spacingAndGlyphs">USDT</text>
<text x="12.5" y="38.3" font-size="9.4" fill="#131722" text-anchor="start" font-weight="normal" textLength="147.5" lengthAdjust="spacingAndGlyphs">Bitcoin / TetherUS · 1D · Binance</text>
<text x="166.7" y="38.3" font-size="9.4" fill="#131722" text-anchor="start" font-weight="normal">O</text>
<text x="174.2" y="38.3" font-size="9.4" fill="#F23645" text-anchor="start" font-weight="normal" textLength="48.6" lengthAdjust="spacingAndGlyphs">112,898.44</text>
<text x="229.2" y="38.3" font-size="9.4" fill="#131722" text-anchor="start" font-weight="normal">H</text>
<text x="236.3" y="38.3" font-size="9.4" fill="#F23645" text-anchor="start" font-weight="normal" textLength="47.9" lengthAdjust="spacingAndGlyphs">112,975.75</text>
<text x="291.3" y="38.3" font-size="9.4" fill="#131722" text-anchor="start" font-weight="normal">L</text>
<text x="297.5" y="38.3" font-size="9.4" fill="#F23645" text-anchor="start" font-weight="normal" textLength="47.5" lengthAdjust="spacingAndGlyphs">112,100.00</text>
<text x="351.3" y="38.3" font-size="9.4" fill="#131722" text-anchor="start" font-weight="normal">C</text>
<text x="358" y="38.3" font-size="9.4" fill="#F23645" text-anchor="start" font-weight="normal" textLength="48" lengthAdjust="spacingAndGlyphs">112,406.99</text>
<text x="413.3" y="38.3" font-size="9.4" fill="#F23645" text-anchor="start" font-weight="normal" textLength="74.9" lengthAdjust="spacingAndGlyphs">−491.46 (−0.44%)</text>
<text x="8.5" y="519.6" font-size="10" fill="#131722" text-anchor="middle" font-weight="bold">2025</text>
<text x="86.73" y="519.6" font-size="10" fill="#131722" text-anchor="middle" font-weight="normal">Feb</text>
<text x="157.39" y="519.6" font-size="10" fill="#131722" text-anchor="middle" font-weight="normal">Mar</text>
<text x="235.61" y="519.6" font-size="10" fill="#131722" text-anchor="middle" font-weight="normal">Apr</text>
<text x="311.32" y="519.6" font-size="10" fill="#131722" text-anchor="middle" font-weight="normal">May</text>
<text x="389.55" y="519.6" font-size="10" fill="#131722" text-anchor="middle" font-weight="normal">Jun</text>
<text x="465.25" y="519.6" font-size="10" fill="#131722" text-anchor="middle" font-weight="normal">Jul</text>
<text x="543.48" y="519.6" font-size="10" fill="#131722" text-anchor="middle" font-weight="normal">Aug</text>
<text x="621.71" y="519.6" font-size="10" fill="#131722" text-anchor="middle" font-weight="normal">Sep</text>
<text x="697.42" y="519.6" font-size="10" fill="#131722" text-anchor="middle" font-weight="normal">Oct</text>
<text x="775.64" y="519.6" font-size="10" fill="#131722" text-anchor="middle" font-weight="normal">Nov</text>
<text x="851.35" y="519.6" font-size="10" fill="#131722" text-anchor="middle" font-weight="normal">Dec</text>
<text x="929.58" y="519.6" font-size="10" fill="#131722" text-anchor="middle" font-weight="bold">2026</text>
<text x="1007.81" y="519.6" font-size="10" fill="#131722" text-anchor="middle" font-weight="normal">Feb</text>
<text x="1078.46" y="519.6" font-size="10" fill="#131722" text-anchor="middle" font-weight="normal">Mar</text>
<rect x="0" y="505" width="5.2" height="22" fill="#fff"/>
<path d="M7.2 546.1H17.3V558.7H12.1V550.8H7.2Z" fill="#111"/>
<circle cx="21.5" cy="548.6" r="2.3" fill="#111"/>
<path d="M26.3 546.3H31.8L27.5 558.7H22.1Z" fill="#111"/>
<text x="38" y="559" font-size="17.5" font-weight="bold" fill="#131722" textLength="101" lengthAdjust="spacingAndGlyphs">TradingView</text>
</svg>
</body></html>
